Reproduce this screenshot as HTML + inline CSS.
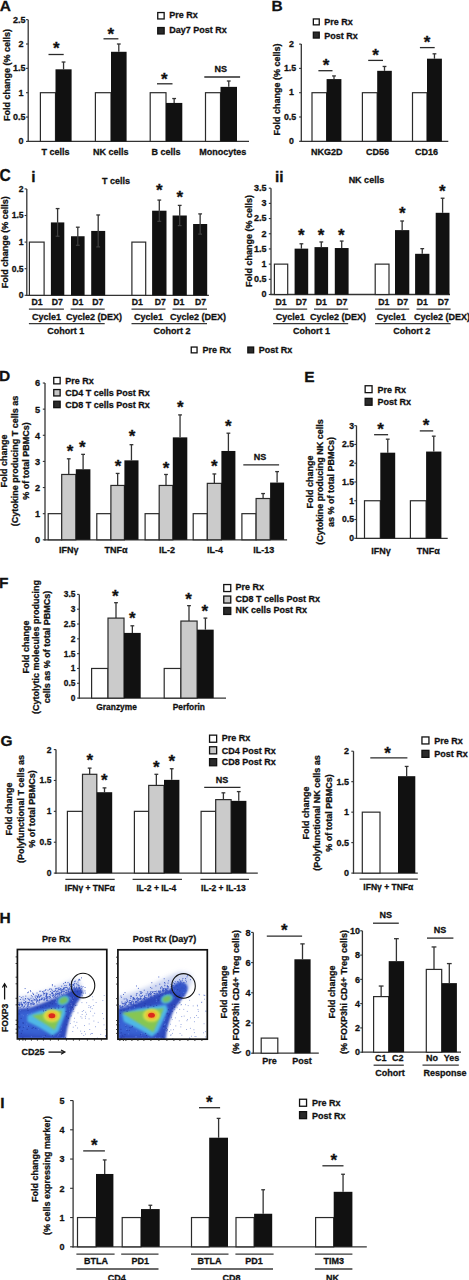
<!DOCTYPE html>
<html><head><meta charset="utf-8"><style>
html,body{margin:0;padding:0;background:#fff;}
svg{display:block;}
text{font-family:"Liberation Sans",sans-serif;font-weight:bold;fill:#111;stroke:#111;stroke-width:0.28px;}
</style></head><body>
<svg width="469" height="1280" viewBox="0 0 469 1280">
<defs>
<filter id="bl2" x="-20%" y="-20%" width="140%" height="140%"><feGaussianBlur stdDeviation="2"/></filter>
<filter id="bl1" x="-30%" y="-30%" width="160%" height="160%"><feGaussianBlur stdDeviation="0.9"/></filter>
<filter id="bl08" x="-30%" y="-30%" width="160%" height="160%"><feGaussianBlur stdDeviation="0.7"/></filter>
<filter id="bl15" x="-30%" y="-30%" width="160%" height="160%"><feGaussianBlur stdDeviation="1.3"/></filter>
<clipPath id="fc"><rect x="0" y="0" width="89.4" height="89.4"/></clipPath>
</defs>
<rect width="469" height="1280" fill="#fff"/>
<text x="-0.3" y="11" text-anchor="start" font-size="15.5">A</text>
<line x1="28.2" y1="19.65" x2="28.2" y2="142" stroke="#333" stroke-width="1.3"/>
<line x1="26" y1="141.4" x2="28.2" y2="141.4" stroke="#333" stroke-width="1.1"/>
<text x="23.5" y="144.3" text-anchor="end" font-size="9">0</text>
<line x1="26" y1="117.05" x2="28.2" y2="117.05" stroke="#333" stroke-width="1.1"/>
<text x="25.5" y="119.95" text-anchor="end" font-size="9">0.5</text>
<line x1="26" y1="92.7" x2="28.2" y2="92.7" stroke="#333" stroke-width="1.1"/>
<text x="23.5" y="95.6" text-anchor="end" font-size="9">1</text>
<line x1="26" y1="68.35" x2="28.2" y2="68.35" stroke="#333" stroke-width="1.1"/>
<text x="25.5" y="71.25" text-anchor="end" font-size="9">1.5</text>
<line x1="26" y1="44" x2="28.2" y2="44" stroke="#333" stroke-width="1.1"/>
<text x="23.5" y="46.9" text-anchor="end" font-size="9">2</text>
<line x1="26" y1="19.65" x2="28.2" y2="19.65" stroke="#333" stroke-width="1.1"/>
<text x="25.5" y="22.55" text-anchor="end" font-size="9">2.5</text>
<line x1="27.6" y1="141.4" x2="249" y2="141.4" stroke="#333" stroke-width="1.3"/>
<rect x="40.4" y="92.7" width="15.1" height="48.7" fill="#fff" stroke="#2a2a2a" stroke-width="1.2"/>
<line x1="63.55" y1="69.32" x2="63.55" y2="62.02" stroke="#333" stroke-width="1.3"/>
<line x1="61.65" y1="62.02" x2="65.45" y2="62.02" stroke="#333" stroke-width="1.3"/>
<rect x="55.5" y="69.32" width="16.1" height="72.08" fill="#111"/>
<rect x="95.4" y="92.7" width="15.6" height="48.7" fill="#fff" stroke="#2a2a2a" stroke-width="1.2"/>
<line x1="118.8" y1="51.79" x2="118.8" y2="44" stroke="#333" stroke-width="1.3"/>
<line x1="116.9" y1="44" x2="120.7" y2="44" stroke="#333" stroke-width="1.3"/>
<rect x="111" y="51.79" width="15.6" height="89.61" fill="#111"/>
<rect x="150.2" y="92.7" width="15.8" height="48.7" fill="#fff" stroke="#2a2a2a" stroke-width="1.2"/>
<line x1="174.15" y1="102.93" x2="174.15" y2="98.54" stroke="#333" stroke-width="1.3"/>
<line x1="172.25" y1="98.54" x2="176.05" y2="98.54" stroke="#333" stroke-width="1.3"/>
<rect x="166" y="102.93" width="16.3" height="38.47" fill="#111"/>
<rect x="205.5" y="92.7" width="15" height="48.7" fill="#fff" stroke="#2a2a2a" stroke-width="1.2"/>
<line x1="228.75" y1="86.86" x2="228.75" y2="81.01" stroke="#333" stroke-width="1.3"/>
<line x1="226.85" y1="81.01" x2="230.65" y2="81.01" stroke="#333" stroke-width="1.3"/>
<rect x="220.5" y="86.86" width="16.5" height="54.54" fill="#111"/>
<line x1="48.5" y1="54.5" x2="63.7" y2="54.5" stroke="#2a2a2a" stroke-width="1.3"/>
<text x="56.4" y="54.13" text-anchor="middle" font-size="17">*</text>
<line x1="103.5" y1="38.8" x2="118.4" y2="38.8" stroke="#2a2a2a" stroke-width="1.3"/>
<text x="110.7" y="39.93" text-anchor="middle" font-size="17">*</text>
<line x1="157" y1="83.8" x2="172.5" y2="83.8" stroke="#2a2a2a" stroke-width="1.3"/>
<text x="164.3" y="85.03" text-anchor="middle" font-size="17">*</text>
<line x1="204.3" y1="77" x2="240.1" y2="77" stroke="#2a2a2a" stroke-width="1.3"/>
<text x="220.8" y="71.7" text-anchor="middle" font-size="9">NS</text>
<text x="55.4" y="155.39" text-anchor="middle" font-size="9">T cells</text>
<text x="110.7" y="155.39" text-anchor="middle" font-size="9">NK cells</text>
<text x="166.1" y="155.39" text-anchor="middle" font-size="9">B cells</text>
<text x="222.8" y="155.39" text-anchor="middle" font-size="9">Monocytes</text>
<rect x="157.75" y="12.55" width="6.4" height="6.4" fill="#fff" stroke="#111" stroke-width="1.3"/>
<text x="169.2" y="18.4" text-anchor="start" font-size="9">Pre Rx</text>
<rect x="157.75" y="27.55" width="6.4" height="6.4" fill="#2a2a2a" stroke="#111" stroke-width="1.3"/>
<text x="169.2" y="33.4" text-anchor="start" font-size="9">Day7 Post Rx</text>
<text x="0" y="0" transform="translate(9.8,74.9) rotate(-90)" text-anchor="middle" font-size="9">Fold change (% cells)</text>
<text x="271.6" y="11.4" text-anchor="start" font-size="15.5">B</text>
<line x1="301.3" y1="44.1" x2="301.3" y2="141.9" stroke="#333" stroke-width="1.3"/>
<line x1="299.1" y1="141.3" x2="301.3" y2="141.3" stroke="#333" stroke-width="1.1"/>
<text x="293.9" y="143.9" text-anchor="end" font-size="8.8">0</text>
<line x1="299.1" y1="117" x2="301.3" y2="117" stroke="#333" stroke-width="1.1"/>
<text x="296.2" y="119.6" text-anchor="end" font-size="8.8">0.5</text>
<line x1="299.1" y1="92.7" x2="301.3" y2="92.7" stroke="#333" stroke-width="1.1"/>
<text x="293.9" y="95.3" text-anchor="end" font-size="8.8">1</text>
<line x1="299.1" y1="68.4" x2="301.3" y2="68.4" stroke="#333" stroke-width="1.1"/>
<text x="296.2" y="71" text-anchor="end" font-size="8.8">1.5</text>
<line x1="299.1" y1="44.1" x2="301.3" y2="44.1" stroke="#333" stroke-width="1.1"/>
<text x="293.9" y="46.7" text-anchor="end" font-size="8.8">2</text>
<line x1="300.7" y1="141.3" x2="448.3" y2="141.3" stroke="#333" stroke-width="1.3"/>
<rect x="312" y="92.7" width="14.6" height="48.6" fill="#fff" stroke="#2a2a2a" stroke-width="1.2"/>
<line x1="334" y1="79.09" x2="334" y2="75.93" stroke="#333" stroke-width="1.3"/>
<line x1="332.1" y1="75.93" x2="335.9" y2="75.93" stroke="#333" stroke-width="1.3"/>
<rect x="326.6" y="79.09" width="14.8" height="62.21" fill="#111"/>
<rect x="362.4" y="92.7" width="14.8" height="48.6" fill="#fff" stroke="#2a2a2a" stroke-width="1.2"/>
<line x1="384.5" y1="70.83" x2="384.5" y2="66.46" stroke="#333" stroke-width="1.3"/>
<line x1="382.6" y1="66.46" x2="386.4" y2="66.46" stroke="#333" stroke-width="1.3"/>
<rect x="377.2" y="70.83" width="14.6" height="70.47" fill="#111"/>
<rect x="412.5" y="92.7" width="14.5" height="48.6" fill="#fff" stroke="#2a2a2a" stroke-width="1.2"/>
<line x1="434.45" y1="58.68" x2="434.45" y2="53.82" stroke="#333" stroke-width="1.3"/>
<line x1="432.55" y1="53.82" x2="436.35" y2="53.82" stroke="#333" stroke-width="1.3"/>
<rect x="427" y="58.68" width="14.9" height="82.62" fill="#111"/>
<line x1="318.4" y1="70.7" x2="332.5" y2="70.7" stroke="#2a2a2a" stroke-width="1.3"/>
<text x="326" y="71.33" text-anchor="middle" font-size="17">*</text>
<line x1="368.2" y1="60.4" x2="383" y2="60.4" stroke="#2a2a2a" stroke-width="1.3"/>
<text x="375.6" y="61.13" text-anchor="middle" font-size="17">*</text>
<line x1="419.9" y1="47.6" x2="434.7" y2="47.6" stroke="#2a2a2a" stroke-width="1.3"/>
<text x="427" y="48.33" text-anchor="middle" font-size="17">*</text>
<text x="326.8" y="155" text-anchor="middle" font-size="9">NKG2D</text>
<text x="377.5" y="155" text-anchor="middle" font-size="9">CD56</text>
<text x="426.5" y="155" text-anchor="middle" font-size="9">CD16</text>
<rect x="313.35" y="18.95" width="5.9" height="5.9" fill="#fff" stroke="#111" stroke-width="1.3"/>
<text x="324.2" y="24.9" text-anchor="start" font-size="9">Pre Rx</text>
<rect x="313.35" y="32.15" width="5.9" height="5.9" fill="#2a2a2a" stroke="#111" stroke-width="1.3"/>
<text x="324.2" y="38.8" text-anchor="start" font-size="9">Post Rx</text>
<text x="0" y="0" transform="translate(280.4,89.4) rotate(-90)" text-anchor="middle" font-size="9">Fold change (% cells)</text>
<text x="-0.6" y="181.3" text-anchor="start" font-size="15.6">C</text>
<text x="31.3" y="181.7" text-anchor="start" font-size="15.5">i</text>
<line x1="26.8" y1="188.9" x2="26.8" y2="295.9" stroke="#333" stroke-width="1.3"/>
<line x1="24.6" y1="295.3" x2="26.8" y2="295.3" stroke="#333" stroke-width="1.1"/>
<text x="23.6" y="298.2" text-anchor="end" font-size="8.6">0</text>
<line x1="24.6" y1="268.7" x2="26.8" y2="268.7" stroke="#333" stroke-width="1.1"/>
<text x="23.6" y="271.6" text-anchor="end" font-size="8.6">0.5</text>
<line x1="24.6" y1="242.1" x2="26.8" y2="242.1" stroke="#333" stroke-width="1.1"/>
<text x="23.6" y="245" text-anchor="end" font-size="8.6">1</text>
<line x1="24.6" y1="215.5" x2="26.8" y2="215.5" stroke="#333" stroke-width="1.1"/>
<text x="23.6" y="218.4" text-anchor="end" font-size="8.6">1.5</text>
<line x1="24.6" y1="188.9" x2="26.8" y2="188.9" stroke="#333" stroke-width="1.1"/>
<text x="23.6" y="191.8" text-anchor="end" font-size="8.6">2</text>
<line x1="26.2" y1="295.3" x2="208.9" y2="295.3" stroke="#333" stroke-width="1.3"/>
<rect x="29.4" y="242.1" width="14.7" height="53.2" fill="#fff" stroke="#2a2a2a" stroke-width="1.2"/>
<line x1="57.6" y1="222.42" x2="57.6" y2="208.58" stroke="#333" stroke-width="1.3"/>
<line x1="55.7" y1="208.58" x2="59.5" y2="208.58" stroke="#333" stroke-width="1.3"/>
<rect x="50.9" y="222.42" width="13.4" height="72.88" fill="#111"/>
<line x1="57.6" y1="222.42" x2="57.6" y2="236.25" stroke="#404040" stroke-width="1.2"/>
<line x1="55.7" y1="236.25" x2="59.5" y2="236.25" stroke="#404040" stroke-width="1.2"/>
<line x1="77.8" y1="236.25" x2="77.8" y2="227.2" stroke="#333" stroke-width="1.3"/>
<line x1="75.9" y1="227.2" x2="79.7" y2="227.2" stroke="#333" stroke-width="1.3"/>
<rect x="71" y="236.25" width="13.6" height="59.05" fill="#111"/>
<line x1="77.8" y1="236.25" x2="77.8" y2="245.29" stroke="#404040" stroke-width="1.2"/>
<line x1="75.9" y1="245.29" x2="79.7" y2="245.29" stroke="#404040" stroke-width="1.2"/>
<line x1="98.2" y1="230.93" x2="98.2" y2="214.97" stroke="#333" stroke-width="1.3"/>
<line x1="96.3" y1="214.97" x2="100.1" y2="214.97" stroke="#333" stroke-width="1.3"/>
<rect x="91.2" y="230.93" width="14" height="64.37" fill="#111"/>
<line x1="98.2" y1="230.93" x2="98.2" y2="246.89" stroke="#404040" stroke-width="1.2"/>
<line x1="96.3" y1="246.89" x2="100.1" y2="246.89" stroke="#404040" stroke-width="1.2"/>
<rect x="131.9" y="242.1" width="13.8" height="53.2" fill="#fff" stroke="#2a2a2a" stroke-width="1.2"/>
<line x1="159.3" y1="210.71" x2="159.3" y2="200.07" stroke="#333" stroke-width="1.3"/>
<line x1="157.4" y1="200.07" x2="161.2" y2="200.07" stroke="#333" stroke-width="1.3"/>
<rect x="152.1" y="210.71" width="14.4" height="84.59" fill="#111"/>
<line x1="159.3" y1="210.71" x2="159.3" y2="221.35" stroke="#404040" stroke-width="1.2"/>
<line x1="157.4" y1="221.35" x2="161.2" y2="221.35" stroke="#404040" stroke-width="1.2"/>
<line x1="179.7" y1="215.5" x2="179.7" y2="205.39" stroke="#333" stroke-width="1.3"/>
<line x1="177.8" y1="205.39" x2="181.6" y2="205.39" stroke="#333" stroke-width="1.3"/>
<rect x="172.6" y="215.5" width="14.2" height="79.8" fill="#111"/>
<line x1="179.7" y1="215.5" x2="179.7" y2="225.61" stroke="#404040" stroke-width="1.2"/>
<line x1="177.8" y1="225.61" x2="181.6" y2="225.61" stroke="#404040" stroke-width="1.2"/>
<line x1="200.15" y1="224.01" x2="200.15" y2="213.9" stroke="#333" stroke-width="1.3"/>
<line x1="198.25" y1="213.9" x2="202.05" y2="213.9" stroke="#333" stroke-width="1.3"/>
<rect x="193.1" y="224.01" width="14.1" height="71.29" fill="#111"/>
<line x1="200.15" y1="224.01" x2="200.15" y2="234.12" stroke="#404040" stroke-width="1.2"/>
<line x1="198.25" y1="234.12" x2="202.05" y2="234.12" stroke="#404040" stroke-width="1.2"/>
<text x="159.2" y="196.33" text-anchor="middle" font-size="17">*</text>
<text x="179.7" y="202.73" text-anchor="middle" font-size="17">*</text>
<text x="116" y="183.7" text-anchor="middle" font-size="9">T cells</text>
<text x="37" y="305.4" text-anchor="middle" font-size="8.7">D1</text>
<text x="57.4" y="305.4" text-anchor="middle" font-size="8.7">D7</text>
<text x="77.9" y="305.4" text-anchor="middle" font-size="8.7">D1</text>
<text x="97.9" y="305.4" text-anchor="middle" font-size="8.7">D7</text>
<line x1="28.9" y1="309.1" x2="63.9" y2="309.1" stroke="#383838" stroke-width="1.3"/>
<line x1="70.6" y1="309.1" x2="104.7" y2="309.1" stroke="#383838" stroke-width="1.3"/>
<text x="46.6" y="320.4" text-anchor="middle" font-size="9">Cycle1</text>
<text x="66" y="320.4" text-anchor="start" font-size="9">Cycle2 (DEX)</text>
<line x1="28.9" y1="323.6" x2="104.7" y2="323.6" stroke="#383838" stroke-width="1.3"/>
<text x="65.8" y="333.6" text-anchor="middle" font-size="9">Cohort 1</text>
<text x="137.4" y="305.4" text-anchor="middle" font-size="8.7">D1</text>
<text x="160.2" y="305.4" text-anchor="middle" font-size="8.7">D7</text>
<text x="178.9" y="305.4" text-anchor="middle" font-size="8.7">D1</text>
<text x="200.6" y="305.4" text-anchor="middle" font-size="8.7">D7</text>
<line x1="131.5" y1="309.1" x2="165.5" y2="309.1" stroke="#383838" stroke-width="1.3"/>
<line x1="172.5" y1="309.1" x2="207" y2="309.1" stroke="#383838" stroke-width="1.3"/>
<text x="148.5" y="320.4" text-anchor="middle" font-size="9">Cycle1</text>
<text x="170" y="320.4" text-anchor="start" font-size="9">Cycle2 (DEX)</text>
<line x1="131.5" y1="323.6" x2="207" y2="323.6" stroke="#383838" stroke-width="1.3"/>
<text x="171.9" y="333.6" text-anchor="middle" font-size="9">Cohort 2</text>
<text x="0" y="0" transform="translate(8.3,242.2) rotate(-90)" text-anchor="middle" font-size="9">Fold change (% cells)</text>
<line x1="271" y1="188.2" x2="271" y2="295.1" stroke="#333" stroke-width="1.3"/>
<line x1="268.8" y1="294.5" x2="271" y2="294.5" stroke="#333" stroke-width="1.1"/>
<text x="266.4" y="297.4" text-anchor="end" font-size="9">0</text>
<line x1="268.8" y1="279.31" x2="271" y2="279.31" stroke="#333" stroke-width="1.1"/>
<text x="266.4" y="282.21" text-anchor="end" font-size="9">0.5</text>
<line x1="268.8" y1="264.13" x2="271" y2="264.13" stroke="#333" stroke-width="1.1"/>
<text x="266.4" y="267.03" text-anchor="end" font-size="9">1</text>
<line x1="268.8" y1="248.94" x2="271" y2="248.94" stroke="#333" stroke-width="1.1"/>
<text x="266.4" y="251.84" text-anchor="end" font-size="9">1.5</text>
<line x1="268.8" y1="233.76" x2="271" y2="233.76" stroke="#333" stroke-width="1.1"/>
<text x="266.4" y="236.66" text-anchor="end" font-size="9">2</text>
<line x1="268.8" y1="218.57" x2="271" y2="218.57" stroke="#333" stroke-width="1.1"/>
<text x="266.4" y="221.47" text-anchor="end" font-size="9">2.5</text>
<line x1="268.8" y1="203.39" x2="271" y2="203.39" stroke="#333" stroke-width="1.1"/>
<text x="266.4" y="206.29" text-anchor="end" font-size="9">3</text>
<line x1="268.8" y1="188.2" x2="271" y2="188.2" stroke="#333" stroke-width="1.1"/>
<text x="266.4" y="191.1" text-anchor="end" font-size="9">3.5</text>
<line x1="270.4" y1="294.5" x2="450" y2="294.5" stroke="#333" stroke-width="1.3"/>
<rect x="274.4" y="264.13" width="13.3" height="30.37" fill="#fff" stroke="#2a2a2a" stroke-width="1.2"/>
<line x1="301.4" y1="248.64" x2="301.4" y2="243.78" stroke="#333" stroke-width="1.3"/>
<line x1="299.5" y1="243.78" x2="303.3" y2="243.78" stroke="#333" stroke-width="1.3"/>
<rect x="294.6" y="248.64" width="13.6" height="45.86" fill="#111"/>
<line x1="321.3" y1="247.12" x2="321.3" y2="241.96" stroke="#333" stroke-width="1.3"/>
<line x1="319.4" y1="241.96" x2="323.2" y2="241.96" stroke="#333" stroke-width="1.3"/>
<rect x="314.5" y="247.12" width="13.6" height="47.38" fill="#111"/>
<line x1="341.7" y1="248.03" x2="341.7" y2="241.05" stroke="#333" stroke-width="1.3"/>
<line x1="339.8" y1="241.05" x2="343.6" y2="241.05" stroke="#333" stroke-width="1.3"/>
<rect x="334.8" y="248.03" width="13.8" height="46.47" fill="#111"/>
<rect x="375.2" y="264.13" width="13.8" height="30.37" fill="#fff" stroke="#2a2a2a" stroke-width="1.2"/>
<line x1="402.15" y1="230.12" x2="402.15" y2="221" stroke="#333" stroke-width="1.3"/>
<line x1="400.25" y1="221" x2="404.05" y2="221" stroke="#333" stroke-width="1.3"/>
<rect x="395" y="230.12" width="14.3" height="64.38" fill="#111"/>
<line x1="422.25" y1="253.8" x2="422.25" y2="248.64" stroke="#333" stroke-width="1.3"/>
<line x1="420.35" y1="248.64" x2="424.15" y2="248.64" stroke="#333" stroke-width="1.3"/>
<rect x="415.1" y="253.8" width="14.3" height="40.7" fill="#111"/>
<line x1="442.6" y1="212.8" x2="442.6" y2="198.23" stroke="#333" stroke-width="1.3"/>
<line x1="440.7" y1="198.23" x2="444.5" y2="198.23" stroke="#333" stroke-width="1.3"/>
<rect x="435.7" y="212.8" width="13.8" height="81.7" fill="#111"/>
<text x="301.2" y="240.93" text-anchor="middle" font-size="17">*</text>
<text x="321" y="240.93" text-anchor="middle" font-size="17">*</text>
<text x="341.4" y="240.93" text-anchor="middle" font-size="17">*</text>
<text x="402.2" y="219.23" text-anchor="middle" font-size="17">*</text>
<text x="442.3" y="196.63" text-anchor="middle" font-size="17">*</text>
<text x="275" y="182.1" text-anchor="start" font-size="15.5">ii</text>
<text x="366.4" y="183.2" text-anchor="middle" font-size="9">NK cells</text>
<text x="281" y="305.4" text-anchor="middle" font-size="8.7">D1</text>
<text x="301.4" y="305.4" text-anchor="middle" font-size="8.7">D7</text>
<text x="321.3" y="305.4" text-anchor="middle" font-size="8.7">D1</text>
<text x="341.7" y="305.4" text-anchor="middle" font-size="8.7">D7</text>
<line x1="273.1" y1="309.1" x2="307.2" y2="309.1" stroke="#383838" stroke-width="1.3"/>
<line x1="314" y1="309.1" x2="348.2" y2="309.1" stroke="#383838" stroke-width="1.3"/>
<text x="290.2" y="320.4" text-anchor="middle" font-size="9">Cycle1</text>
<text x="310" y="320.4" text-anchor="start" font-size="9">Cycle2 (DEX)</text>
<line x1="273.1" y1="323.6" x2="348.2" y2="323.6" stroke="#383838" stroke-width="1.3"/>
<text x="311.5" y="333.6" text-anchor="middle" font-size="9">Cohort 1</text>
<text x="383.7" y="305.4" text-anchor="middle" font-size="8.7">D1</text>
<text x="402.6" y="305.4" text-anchor="middle" font-size="8.7">D7</text>
<text x="422.3" y="305.4" text-anchor="middle" font-size="8.7">D1</text>
<text x="443.2" y="305.4" text-anchor="middle" font-size="8.7">D7</text>
<line x1="375.1" y1="309.1" x2="409.3" y2="309.1" stroke="#383838" stroke-width="1.3"/>
<line x1="416.5" y1="309.1" x2="450.6" y2="309.1" stroke="#383838" stroke-width="1.3"/>
<text x="391.3" y="320.4" text-anchor="middle" font-size="9">Cycle1</text>
<text x="414" y="320.4" text-anchor="start" font-size="9">Cycle2 (DEX)</text>
<line x1="375.1" y1="323.6" x2="450.6" y2="323.6" stroke="#383838" stroke-width="1.3"/>
<text x="411.8" y="333.6" text-anchor="middle" font-size="9">Cohort 2</text>
<text x="0" y="0" transform="translate(252.4,240.9) rotate(-90)" text-anchor="middle" font-size="9">Fold change (% cells)</text>
<rect x="191.25" y="347.05" width="5.8" height="5.8" fill="#fff" stroke="#111" stroke-width="1.3"/>
<text x="202.4" y="352.9" text-anchor="start" font-size="9">Pre Rx</text>
<rect x="247.85" y="347.05" width="5.8" height="5.8" fill="#2a2a2a" stroke="#111" stroke-width="1.3"/>
<text x="258.7" y="352.9" text-anchor="start" font-size="9">Post Rx</text>
<text x="-1" y="381.4" text-anchor="start" font-size="15.5">D</text>
<line x1="45" y1="383.02" x2="45" y2="540.4" stroke="#333" stroke-width="1.3"/>
<line x1="42.8" y1="539.8" x2="45" y2="539.8" stroke="#333" stroke-width="1.1"/>
<text x="40.2" y="543.2" text-anchor="end" font-size="9.2">0</text>
<line x1="42.8" y1="513.67" x2="45" y2="513.67" stroke="#333" stroke-width="1.1"/>
<text x="40.2" y="517.07" text-anchor="end" font-size="9.2">1</text>
<line x1="42.8" y1="487.54" x2="45" y2="487.54" stroke="#333" stroke-width="1.1"/>
<text x="40.2" y="490.94" text-anchor="end" font-size="9.2">2</text>
<line x1="42.8" y1="461.41" x2="45" y2="461.41" stroke="#333" stroke-width="1.1"/>
<text x="40.2" y="464.81" text-anchor="end" font-size="9.2">3</text>
<line x1="42.8" y1="435.28" x2="45" y2="435.28" stroke="#333" stroke-width="1.1"/>
<text x="40.2" y="438.68" text-anchor="end" font-size="9.2">4</text>
<line x1="42.8" y1="409.15" x2="45" y2="409.15" stroke="#333" stroke-width="1.1"/>
<text x="40.2" y="412.55" text-anchor="end" font-size="9.2">5</text>
<line x1="42.8" y1="383.02" x2="45" y2="383.02" stroke="#333" stroke-width="1.1"/>
<text x="40.2" y="386.42" text-anchor="end" font-size="9.2">6</text>
<line x1="44.4" y1="539.8" x2="287.1" y2="539.8" stroke="#333" stroke-width="1.3"/>
<rect x="48.2" y="513.67" width="13.5" height="26.13" fill="#fff" stroke="#2a2a2a" stroke-width="1.2"/>
<line x1="68.75" y1="474.47" x2="68.75" y2="458.8" stroke="#333" stroke-width="1.3"/>
<line x1="66.85" y1="458.8" x2="70.65" y2="458.8" stroke="#333" stroke-width="1.3"/>
<rect x="61.7" y="474.47" width="14.1" height="65.32" fill="#cbcbcb" stroke="#2a2a2a" stroke-width="1.2"/>
<line x1="83.1" y1="469.25" x2="83.1" y2="454.35" stroke="#333" stroke-width="1.3"/>
<line x1="81.2" y1="454.35" x2="85" y2="454.35" stroke="#333" stroke-width="1.3"/>
<rect x="75.8" y="469.25" width="14.6" height="70.55" fill="#111"/>
<rect x="96.8" y="513.67" width="14.1" height="26.13" fill="#fff" stroke="#2a2a2a" stroke-width="1.2"/>
<line x1="117.65" y1="485.45" x2="117.65" y2="473.43" stroke="#333" stroke-width="1.3"/>
<line x1="115.75" y1="473.43" x2="119.55" y2="473.43" stroke="#333" stroke-width="1.3"/>
<rect x="110.9" y="485.45" width="13.5" height="54.35" fill="#cbcbcb" stroke="#2a2a2a" stroke-width="1.2"/>
<line x1="131.45" y1="460.36" x2="131.45" y2="444.69" stroke="#333" stroke-width="1.3"/>
<line x1="129.55" y1="444.69" x2="133.35" y2="444.69" stroke="#333" stroke-width="1.3"/>
<rect x="124.4" y="460.36" width="14.1" height="79.44" fill="#111"/>
<rect x="145.1" y="513.67" width="14.1" height="26.13" fill="#fff" stroke="#2a2a2a" stroke-width="1.2"/>
<line x1="166" y1="485.45" x2="166" y2="474.47" stroke="#333" stroke-width="1.3"/>
<line x1="164.1" y1="474.47" x2="167.9" y2="474.47" stroke="#333" stroke-width="1.3"/>
<rect x="159.2" y="485.45" width="13.6" height="54.35" fill="#cbcbcb" stroke="#2a2a2a" stroke-width="1.2"/>
<line x1="180.05" y1="437.37" x2="180.05" y2="414.9" stroke="#333" stroke-width="1.3"/>
<line x1="178.15" y1="414.9" x2="181.95" y2="414.9" stroke="#333" stroke-width="1.3"/>
<rect x="172.8" y="437.37" width="14.5" height="102.43" fill="#111"/>
<rect x="193.2" y="513.67" width="14.1" height="26.13" fill="#fff" stroke="#2a2a2a" stroke-width="1.2"/>
<line x1="214.35" y1="483.36" x2="214.35" y2="473.95" stroke="#333" stroke-width="1.3"/>
<line x1="212.45" y1="473.95" x2="216.25" y2="473.95" stroke="#333" stroke-width="1.3"/>
<rect x="207.3" y="483.36" width="14.1" height="56.44" fill="#cbcbcb" stroke="#2a2a2a" stroke-width="1.2"/>
<line x1="228.4" y1="450.96" x2="228.4" y2="433.19" stroke="#333" stroke-width="1.3"/>
<line x1="226.5" y1="433.19" x2="230.3" y2="433.19" stroke="#333" stroke-width="1.3"/>
<rect x="221.4" y="450.96" width="14" height="88.84" fill="#111"/>
<rect x="241.9" y="513.67" width="14.2" height="26.13" fill="#fff" stroke="#2a2a2a" stroke-width="1.2"/>
<line x1="263.1" y1="498.51" x2="263.1" y2="493.55" stroke="#333" stroke-width="1.3"/>
<line x1="261.2" y1="493.55" x2="265" y2="493.55" stroke="#333" stroke-width="1.3"/>
<rect x="256.1" y="498.51" width="14" height="41.29" fill="#cbcbcb" stroke="#2a2a2a" stroke-width="1.2"/>
<line x1="277.1" y1="482.58" x2="277.1" y2="471.6" stroke="#333" stroke-width="1.3"/>
<line x1="275.2" y1="471.6" x2="279" y2="471.6" stroke="#333" stroke-width="1.3"/>
<rect x="270.1" y="482.58" width="14" height="57.22" fill="#111"/>
<text x="70" y="456.53" text-anchor="middle" font-size="17">*</text>
<text x="82.2" y="452.63" text-anchor="middle" font-size="17">*</text>
<text x="118" y="471.83" text-anchor="middle" font-size="17">*</text>
<text x="132.1" y="442.43" text-anchor="middle" font-size="17">*</text>
<text x="166.1" y="473.63" text-anchor="middle" font-size="17">*</text>
<text x="180.2" y="412.93" text-anchor="middle" font-size="17">*</text>
<text x="214.2" y="471.83" text-anchor="middle" font-size="17">*</text>
<text x="228.3" y="432.13" text-anchor="middle" font-size="17">*</text>
<line x1="243.3" y1="464.9" x2="279.1" y2="464.9" stroke="#2a2a2a" stroke-width="1.3"/>
<text x="259.9" y="459.5" text-anchor="middle" font-size="9">NS</text>
<text x="68.7" y="553.2" text-anchor="middle" font-size="9">IFN&#947;</text>
<text x="116" y="553.2" text-anchor="middle" font-size="9">TNF&#945;</text>
<text x="166.9" y="553.2" text-anchor="middle" font-size="9">IL-2</text>
<text x="215" y="553.2" text-anchor="middle" font-size="9">IL-4</text>
<text x="263.8" y="553.2" text-anchor="middle" font-size="9">IL-13</text>
<rect x="53.75" y="377.45" width="6.4" height="6.4" fill="#fff" stroke="#111" stroke-width="1.3"/>
<text x="65.2" y="384" text-anchor="start" font-size="9">Pre Rx</text>
<rect x="53.75" y="389.55" width="6.4" height="6.4" fill="#c6c6c6" stroke="#111" stroke-width="1.3"/>
<text x="65.2" y="396.1" text-anchor="start" font-size="9">CD4 T cells Post Rx</text>
<rect x="53.75" y="401.25" width="6.4" height="6.4" fill="#2a2a2a" stroke="#111" stroke-width="1.3"/>
<text x="65.2" y="407.8" text-anchor="start" font-size="9">CD8 T cells Post Rx</text>
<text x="0" y="0" transform="translate(7.4,461) rotate(-90)" text-anchor="middle" font-size="9">Fold change</text>
<text x="0" y="0" transform="translate(18,461) rotate(-90)" text-anchor="middle" font-size="9">(Cytokine producing T cells as</text>
<text x="0" y="0" transform="translate(29.2,461) rotate(-90)" text-anchor="middle" font-size="9">% of total PBMCs)</text>
<text x="304.3" y="382" text-anchor="start" font-size="15.5">E</text>
<line x1="356.5" y1="425.65" x2="356.5" y2="538.9" stroke="#333" stroke-width="1.3"/>
<line x1="354.3" y1="538.3" x2="356.5" y2="538.3" stroke="#333" stroke-width="1.1"/>
<text x="354" y="541.2" text-anchor="end" font-size="8.6">0</text>
<line x1="354.3" y1="519.52" x2="356.5" y2="519.52" stroke="#333" stroke-width="1.1"/>
<text x="354" y="522.42" text-anchor="end" font-size="8.6">0.5</text>
<line x1="354.3" y1="500.75" x2="356.5" y2="500.75" stroke="#333" stroke-width="1.1"/>
<text x="354" y="503.65" text-anchor="end" font-size="8.6">1</text>
<line x1="354.3" y1="481.97" x2="356.5" y2="481.97" stroke="#333" stroke-width="1.1"/>
<text x="354" y="484.87" text-anchor="end" font-size="8.6">1.5</text>
<line x1="354.3" y1="463.2" x2="356.5" y2="463.2" stroke="#333" stroke-width="1.1"/>
<text x="354" y="466.1" text-anchor="end" font-size="8.6">2</text>
<line x1="354.3" y1="444.42" x2="356.5" y2="444.42" stroke="#333" stroke-width="1.1"/>
<text x="354" y="447.32" text-anchor="end" font-size="8.6">2.5</text>
<line x1="354.3" y1="425.65" x2="356.5" y2="425.65" stroke="#333" stroke-width="1.1"/>
<text x="354" y="428.55" text-anchor="end" font-size="8.6">3</text>
<line x1="355.9" y1="538.3" x2="447.7" y2="538.3" stroke="#333" stroke-width="1.3"/>
<rect x="364.5" y="500.75" width="15.8" height="37.55" fill="#fff" stroke="#2a2a2a" stroke-width="1.2"/>
<line x1="387.75" y1="452.69" x2="387.75" y2="439.17" stroke="#333" stroke-width="1.3"/>
<line x1="385.85" y1="439.17" x2="389.65" y2="439.17" stroke="#333" stroke-width="1.3"/>
<rect x="380.3" y="452.69" width="14.9" height="85.61" fill="#111"/>
<rect x="410.4" y="500.75" width="15.7" height="37.55" fill="#fff" stroke="#2a2a2a" stroke-width="1.2"/>
<line x1="433.75" y1="451.56" x2="433.75" y2="436.16" stroke="#333" stroke-width="1.3"/>
<line x1="431.85" y1="436.16" x2="435.65" y2="436.16" stroke="#333" stroke-width="1.3"/>
<rect x="426.1" y="451.56" width="15.3" height="86.74" fill="#111"/>
<line x1="374.1" y1="434.7" x2="388.1" y2="434.7" stroke="#2a2a2a" stroke-width="1.3"/>
<text x="380.5" y="435.13" text-anchor="middle" font-size="17">*</text>
<line x1="419.8" y1="430.9" x2="433.2" y2="430.9" stroke="#2a2a2a" stroke-width="1.3"/>
<text x="426.1" y="431.33" text-anchor="middle" font-size="17">*</text>
<text x="381" y="554.2" text-anchor="middle" font-size="9">IFN&#947;</text>
<text x="428.3" y="554.2" text-anchor="middle" font-size="9">TNF&#945;</text>
<rect x="365.15" y="385.75" width="6.9" height="6.9" fill="#fff" stroke="#111" stroke-width="1.3"/>
<text x="377.4" y="392.8" text-anchor="start" font-size="9">Pre Rx</text>
<rect x="365.15" y="398.35" width="6.9" height="6.9" fill="#2a2a2a" stroke="#111" stroke-width="1.3"/>
<text x="377.4" y="405" text-anchor="start" font-size="9">Post Rx</text>
<text x="0" y="0" transform="translate(312.8,482) rotate(-90)" text-anchor="middle" font-size="9">Fold change</text>
<text x="0" y="0" transform="translate(323,482) rotate(-90)" text-anchor="middle" font-size="9">(Cytokine producing NK cells</text>
<text x="0" y="0" transform="translate(333.9,482) rotate(-90)" text-anchor="middle" font-size="9">as % of total PBMCs)</text>
<text x="-1.1" y="588.3" text-anchor="start" font-size="15.5">F</text>
<line x1="79.3" y1="594.39" x2="79.3" y2="698.7" stroke="#333" stroke-width="1.3"/>
<line x1="77.1" y1="698.1" x2="79.3" y2="698.1" stroke="#333" stroke-width="1.1"/>
<text x="75.4" y="701" text-anchor="end" font-size="8.4">0</text>
<line x1="77.1" y1="683.28" x2="79.3" y2="683.28" stroke="#333" stroke-width="1.1"/>
<text x="75.4" y="686.18" text-anchor="end" font-size="8.4">0.5</text>
<line x1="77.1" y1="668.47" x2="79.3" y2="668.47" stroke="#333" stroke-width="1.1"/>
<text x="75.4" y="671.37" text-anchor="end" font-size="8.4">1</text>
<line x1="77.1" y1="653.65" x2="79.3" y2="653.65" stroke="#333" stroke-width="1.1"/>
<text x="75.4" y="656.55" text-anchor="end" font-size="8.4">1.5</text>
<line x1="77.1" y1="638.84" x2="79.3" y2="638.84" stroke="#333" stroke-width="1.1"/>
<text x="75.4" y="641.74" text-anchor="end" font-size="8.4">2</text>
<line x1="77.1" y1="624.02" x2="79.3" y2="624.02" stroke="#333" stroke-width="1.1"/>
<text x="75.4" y="626.92" text-anchor="end" font-size="8.4">2.5</text>
<line x1="77.1" y1="609.21" x2="79.3" y2="609.21" stroke="#333" stroke-width="1.1"/>
<text x="75.4" y="612.11" text-anchor="end" font-size="8.4">3</text>
<line x1="77.1" y1="594.39" x2="79.3" y2="594.39" stroke="#333" stroke-width="1.1"/>
<text x="75.4" y="597.29" text-anchor="end" font-size="8.4">3.5</text>
<line x1="78.7" y1="698.1" x2="226" y2="698.1" stroke="#333" stroke-width="1.3"/>
<rect x="91.6" y="668.47" width="16.4" height="29.63" fill="#fff" stroke="#2a2a2a" stroke-width="1.2"/>
<line x1="116" y1="618.1" x2="116" y2="602.69" stroke="#333" stroke-width="1.3"/>
<line x1="114.1" y1="602.69" x2="117.9" y2="602.69" stroke="#333" stroke-width="1.3"/>
<rect x="108" y="618.1" width="16" height="80" fill="#cbcbcb" stroke="#2a2a2a" stroke-width="1.2"/>
<line x1="132.35" y1="632.91" x2="132.35" y2="625.8" stroke="#333" stroke-width="1.3"/>
<line x1="130.45" y1="625.8" x2="134.25" y2="625.8" stroke="#333" stroke-width="1.3"/>
<rect x="124" y="632.91" width="16.7" height="65.19" fill="#111"/>
<rect x="164.2" y="668.47" width="16.7" height="29.63" fill="#fff" stroke="#2a2a2a" stroke-width="1.2"/>
<line x1="189" y1="621.06" x2="189" y2="605.65" stroke="#333" stroke-width="1.3"/>
<line x1="187.1" y1="605.65" x2="190.9" y2="605.65" stroke="#333" stroke-width="1.3"/>
<rect x="180.9" y="621.06" width="16.2" height="77.04" fill="#cbcbcb" stroke="#2a2a2a" stroke-width="1.2"/>
<line x1="205.4" y1="629.65" x2="205.4" y2="618.1" stroke="#333" stroke-width="1.3"/>
<line x1="203.5" y1="618.1" x2="207.3" y2="618.1" stroke="#333" stroke-width="1.3"/>
<rect x="197.1" y="629.65" width="16.6" height="68.45" fill="#111"/>
<text x="115.2" y="602.23" text-anchor="middle" font-size="17">*</text>
<text x="132.4" y="624.33" text-anchor="middle" font-size="17">*</text>
<text x="188.6" y="605.03" text-anchor="middle" font-size="17">*</text>
<text x="204.9" y="616.73" text-anchor="middle" font-size="17">*</text>
<text x="116.6" y="710.38" text-anchor="middle" font-size="8.4">Granzyme</text>
<text x="188.8" y="710.38" text-anchor="middle" font-size="8.4">Perforin</text>
<rect x="223.75" y="584.55" width="7" height="7" fill="#fff" stroke="#111" stroke-width="1.3"/>
<text x="235.5" y="590.2" text-anchor="start" font-size="9">Pre Rx</text>
<rect x="223.75" y="596.05" width="7" height="7" fill="#c6c6c6" stroke="#111" stroke-width="1.3"/>
<text x="235.5" y="601.8" text-anchor="start" font-size="9">CD8 T cells Post Rx</text>
<rect x="223.75" y="607.45" width="7" height="7" fill="#2a2a2a" stroke="#111" stroke-width="1.3"/>
<text x="235.5" y="613.4" text-anchor="start" font-size="9">NK cells Post Rx</text>
<text x="0" y="0" transform="translate(28.8,647) rotate(-90)" text-anchor="middle" font-size="9">Fold change</text>
<text x="0" y="0" transform="translate(39,647) rotate(-90)" text-anchor="middle" font-size="9">(Cytolytic molecules producing</text>
<text x="0" y="0" transform="translate(49.6,647) rotate(-90)" text-anchor="middle" font-size="9">cells as % of total PBMCs)</text>
<text x="0.6" y="746.1" text-anchor="start" font-size="15.5">G</text>
<line x1="56" y1="749.6" x2="56" y2="873.7" stroke="#333" stroke-width="1.3"/>
<line x1="53.8" y1="873.1" x2="56" y2="873.1" stroke="#333" stroke-width="1.1"/>
<text x="51.4" y="876" text-anchor="end" font-size="8.5">0</text>
<line x1="53.8" y1="842.23" x2="56" y2="842.23" stroke="#333" stroke-width="1.1"/>
<text x="51.4" y="845.12" text-anchor="end" font-size="8.5">0.5</text>
<line x1="53.8" y1="811.35" x2="56" y2="811.35" stroke="#333" stroke-width="1.1"/>
<text x="51.4" y="814.25" text-anchor="end" font-size="8.5">1</text>
<line x1="53.8" y1="780.48" x2="56" y2="780.48" stroke="#333" stroke-width="1.1"/>
<text x="51.4" y="783.38" text-anchor="end" font-size="8.5">1.5</text>
<line x1="53.8" y1="749.6" x2="56" y2="749.6" stroke="#333" stroke-width="1.1"/>
<text x="51.4" y="752.5" text-anchor="end" font-size="8.5">2</text>
<line x1="55.4" y1="873.1" x2="257.8" y2="873.1" stroke="#333" stroke-width="1.3"/>
<rect x="67.4" y="811.35" width="15.1" height="61.75" fill="#fff" stroke="#2a2a2a" stroke-width="1.2"/>
<line x1="89.65" y1="774.3" x2="89.65" y2="768.12" stroke="#333" stroke-width="1.3"/>
<line x1="87.75" y1="768.12" x2="91.55" y2="768.12" stroke="#333" stroke-width="1.3"/>
<rect x="82.5" y="774.3" width="14.3" height="98.8" fill="#cbcbcb" stroke="#2a2a2a" stroke-width="1.2"/>
<line x1="104.5" y1="792.21" x2="104.5" y2="787.88" stroke="#333" stroke-width="1.3"/>
<line x1="102.6" y1="787.88" x2="106.4" y2="787.88" stroke="#333" stroke-width="1.3"/>
<rect x="96.8" y="792.21" width="15.4" height="80.89" fill="#111"/>
<rect x="134.4" y="811.35" width="14.3" height="61.75" fill="#fff" stroke="#2a2a2a" stroke-width="1.2"/>
<line x1="156.35" y1="785.41" x2="156.35" y2="774.3" stroke="#333" stroke-width="1.3"/>
<line x1="154.45" y1="774.3" x2="158.25" y2="774.3" stroke="#333" stroke-width="1.3"/>
<rect x="148.7" y="785.41" width="15.3" height="87.69" fill="#cbcbcb" stroke="#2a2a2a" stroke-width="1.2"/>
<line x1="171.7" y1="779.86" x2="171.7" y2="768.74" stroke="#333" stroke-width="1.3"/>
<line x1="169.8" y1="768.74" x2="173.6" y2="768.74" stroke="#333" stroke-width="1.3"/>
<rect x="164" y="779.86" width="15.4" height="93.24" fill="#111"/>
<rect x="201.1" y="811.35" width="14.6" height="61.75" fill="#fff" stroke="#2a2a2a" stroke-width="1.2"/>
<line x1="223.4" y1="799.62" x2="223.4" y2="792.83" stroke="#333" stroke-width="1.3"/>
<line x1="221.5" y1="792.83" x2="225.3" y2="792.83" stroke="#333" stroke-width="1.3"/>
<rect x="215.7" y="799.62" width="15.4" height="73.48" fill="#cbcbcb" stroke="#2a2a2a" stroke-width="1.2"/>
<line x1="238.75" y1="800.85" x2="238.75" y2="791.59" stroke="#333" stroke-width="1.3"/>
<line x1="236.85" y1="791.59" x2="240.65" y2="791.59" stroke="#333" stroke-width="1.3"/>
<rect x="231.1" y="800.85" width="15.3" height="72.25" fill="#111"/>
<text x="89.7" y="766.23" text-anchor="middle" font-size="17">*</text>
<text x="104.2" y="786.23" text-anchor="middle" font-size="17">*</text>
<text x="156.4" y="773.13" text-anchor="middle" font-size="17">*</text>
<text x="171.7" y="767.03" text-anchor="middle" font-size="17">*</text>
<line x1="204.2" y1="787.3" x2="240.5" y2="787.3" stroke="#2a2a2a" stroke-width="1.3"/>
<text x="222.1" y="782.9" text-anchor="middle" font-size="9">NS</text>
<line x1="65.4" y1="879.3" x2="114.7" y2="879.3" stroke="#383838" stroke-width="1.3"/>
<line x1="132.6" y1="879.3" x2="182" y2="879.3" stroke="#383838" stroke-width="1.3"/>
<line x1="200.4" y1="879.3" x2="249" y2="879.3" stroke="#383838" stroke-width="1.3"/>
<text x="89.7" y="890.82" text-anchor="middle" font-size="8.5">IFN&#947; + TNF&#945;</text>
<text x="156.4" y="890.82" text-anchor="middle" font-size="8.5">IL-2 + IL-4</text>
<text x="223.4" y="890.82" text-anchor="middle" font-size="8.5">IL-2 + IL-13</text>
<rect x="209.55" y="735.15" width="7.1" height="7.1" fill="#fff" stroke="#111" stroke-width="1.3"/>
<text x="221.8" y="741" text-anchor="start" font-size="9">Pre Rx</text>
<rect x="209.55" y="746.75" width="7.1" height="7.1" fill="#c6c6c6" stroke="#111" stroke-width="1.3"/>
<text x="221.8" y="753.5" text-anchor="start" font-size="9">CD4 Post Rx</text>
<rect x="209.55" y="758.65" width="7.1" height="7.1" fill="#2a2a2a" stroke="#111" stroke-width="1.3"/>
<text x="221.8" y="765.1" text-anchor="start" font-size="9">CD8 Post Rx</text>
<text x="0" y="0" transform="translate(12.2,809) rotate(-90)" text-anchor="middle" font-size="9">Fold change</text>
<text x="0" y="0" transform="translate(24.1,809) rotate(-90)" text-anchor="middle" font-size="9">(Polyfunctional T cells as</text>
<text x="0" y="0" transform="translate(35.3,809) rotate(-90)" text-anchor="middle" font-size="9">% of total PBMCs)</text>
<line x1="353.5" y1="751.2" x2="353.5" y2="873.7" stroke="#333" stroke-width="1.3"/>
<line x1="351.3" y1="873.1" x2="353.5" y2="873.1" stroke="#333" stroke-width="1.1"/>
<text x="348.9" y="876" text-anchor="end" font-size="9">0</text>
<line x1="351.3" y1="842.62" x2="353.5" y2="842.62" stroke="#333" stroke-width="1.1"/>
<text x="348.9" y="845.52" text-anchor="end" font-size="9">0.5</text>
<line x1="351.3" y1="812.15" x2="353.5" y2="812.15" stroke="#333" stroke-width="1.1"/>
<text x="348.9" y="815.05" text-anchor="end" font-size="9">1</text>
<line x1="351.3" y1="781.67" x2="353.5" y2="781.67" stroke="#333" stroke-width="1.1"/>
<text x="348.9" y="784.57" text-anchor="end" font-size="9">1.5</text>
<line x1="351.3" y1="751.2" x2="353.5" y2="751.2" stroke="#333" stroke-width="1.1"/>
<text x="348.9" y="754.1" text-anchor="end" font-size="9">2</text>
<line x1="352.9" y1="873.1" x2="417.8" y2="873.1" stroke="#333" stroke-width="1.3"/>
<rect x="362.3" y="812.15" width="17.7" height="60.95" fill="#fff" stroke="#2a2a2a" stroke-width="1.2"/>
<line x1="406.65" y1="776.19" x2="406.65" y2="766.44" stroke="#333" stroke-width="1.3"/>
<line x1="404.75" y1="766.44" x2="408.55" y2="766.44" stroke="#333" stroke-width="1.3"/>
<rect x="398" y="776.19" width="17.3" height="96.91" fill="#111"/>
<line x1="370.3" y1="757.8" x2="407.4" y2="757.8" stroke="#2a2a2a" stroke-width="1.3"/>
<text x="387.6" y="758.93" text-anchor="middle" font-size="17">*</text>
<line x1="359.5" y1="879.2" x2="417.8" y2="879.2" stroke="#383838" stroke-width="1.3"/>
<text x="388.3" y="890.22" text-anchor="middle" font-size="8.5">IFN&#947; + TNF&#945;</text>
<rect x="421.95" y="736.95" width="7" height="7" fill="#fff" stroke="#111" stroke-width="1.3"/>
<text x="434.3" y="743.8" text-anchor="start" font-size="9">Pre Rx</text>
<rect x="421.95" y="750.35" width="7" height="7" fill="#2a2a2a" stroke="#111" stroke-width="1.3"/>
<text x="434.3" y="757.1" text-anchor="start" font-size="9">Post Rx</text>
<text x="0" y="0" transform="translate(309.4,813) rotate(-90)" text-anchor="middle" font-size="9">Fold change</text>
<text x="0" y="0" transform="translate(319.8,813) rotate(-90)" text-anchor="middle" font-size="9">(Polyfunctional NK cells as</text>
<text x="0" y="0" transform="translate(331.8,813) rotate(-90)" text-anchor="middle" font-size="9">% of total PBMCs)</text>
<text x="-0.6" y="922.8" text-anchor="start" font-size="15.5">H</text>
<text x="56.3" y="941.9" text-anchor="middle" font-size="9">Pre Rx</text>
<text x="164.5" y="942.3" text-anchor="middle" font-size="9">Post Rx (Day7)</text>
<line x1="253.3" y1="932.4" x2="253.3" y2="1053.8" stroke="#333" stroke-width="1.3"/>
<line x1="251.1" y1="1053.2" x2="253.3" y2="1053.2" stroke="#333" stroke-width="1.1"/>
<text x="250.6" y="1056.4" text-anchor="end" font-size="9.2">0</text>
<line x1="251.1" y1="1023" x2="253.3" y2="1023" stroke="#333" stroke-width="1.1"/>
<text x="250.6" y="1026.2" text-anchor="end" font-size="9.2">2</text>
<line x1="251.1" y1="992.8" x2="253.3" y2="992.8" stroke="#333" stroke-width="1.1"/>
<text x="250.6" y="996" text-anchor="end" font-size="9.2">4</text>
<line x1="251.1" y1="962.6" x2="253.3" y2="962.6" stroke="#333" stroke-width="1.1"/>
<text x="250.6" y="965.8" text-anchor="end" font-size="9.2">6</text>
<line x1="251.1" y1="932.4" x2="253.3" y2="932.4" stroke="#333" stroke-width="1.1"/>
<text x="250.6" y="935.6" text-anchor="end" font-size="9.2">8</text>
<line x1="252.7" y1="1053.2" x2="318.8" y2="1053.2" stroke="#333" stroke-width="1.3"/>
<rect x="261.2" y="1038.1" width="16.6" height="15.1" fill="#fff" stroke="#2a2a2a" stroke-width="1.2"/>
<line x1="302.5" y1="959.28" x2="302.5" y2="943.88" stroke="#333" stroke-width="1.3"/>
<line x1="300.3" y1="943.88" x2="304.7" y2="943.88" stroke="#333" stroke-width="1.3"/>
<rect x="294.4" y="959.28" width="16.2" height="93.92" fill="#111"/>
<line x1="266.8" y1="936.1" x2="302.1" y2="936.1" stroke="#2a2a2a" stroke-width="1.3"/>
<text x="284.2" y="936.03" text-anchor="middle" font-size="17">*</text>
<text x="269.4" y="1063.89" text-anchor="middle" font-size="9">Pre</text>
<text x="302.1" y="1063.89" text-anchor="middle" font-size="9">Post</text>
<text x="0" y="0" transform="translate(227.3,992) rotate(-90)" text-anchor="middle" font-size="9">Fold change</text>
<text x="0" y="0" transform="translate(238.8,992) rotate(-90)" text-anchor="middle" font-size="9">(% FOXP3hi CD4+ Treg cells)</text>
<line x1="362.4" y1="930.8" x2="362.4" y2="1052.8" stroke="#333" stroke-width="1.3"/>
<line x1="360.2" y1="1052.2" x2="362.4" y2="1052.2" stroke="#333" stroke-width="1.1"/>
<text x="360.1" y="1055.4" text-anchor="end" font-size="9">0</text>
<line x1="360.2" y1="1027.92" x2="362.4" y2="1027.92" stroke="#333" stroke-width="1.1"/>
<text x="360.1" y="1031.12" text-anchor="end" font-size="9">2</text>
<line x1="360.2" y1="1003.64" x2="362.4" y2="1003.64" stroke="#333" stroke-width="1.1"/>
<text x="360.1" y="1006.84" text-anchor="end" font-size="9">4</text>
<line x1="360.2" y1="979.36" x2="362.4" y2="979.36" stroke="#333" stroke-width="1.1"/>
<text x="360.1" y="982.56" text-anchor="end" font-size="9">6</text>
<line x1="360.2" y1="955.08" x2="362.4" y2="955.08" stroke="#333" stroke-width="1.1"/>
<text x="360.1" y="958.28" text-anchor="end" font-size="9">8</text>
<line x1="360.2" y1="930.8" x2="362.4" y2="930.8" stroke="#333" stroke-width="1.1"/>
<text x="360.1" y="934" text-anchor="end" font-size="9">10</text>
<line x1="361.8" y1="1052.2" x2="461" y2="1052.2" stroke="#333" stroke-width="1.3"/>
<line x1="381.15" y1="996.6" x2="381.15" y2="986.04" stroke="#333" stroke-width="1.3"/>
<line x1="378.75" y1="986.04" x2="383.55" y2="986.04" stroke="#333" stroke-width="1.3"/>
<rect x="373.6" y="996.6" width="15.1" height="55.6" fill="#fff" stroke="#2a2a2a" stroke-width="1.2"/>
<line x1="396.4" y1="961.15" x2="396.4" y2="938.69" stroke="#333" stroke-width="1.3"/>
<line x1="394" y1="938.69" x2="398.8" y2="938.69" stroke="#333" stroke-width="1.3"/>
<rect x="388.7" y="961.15" width="15.4" height="91.05" fill="#111"/>
<line x1="434" y1="969.41" x2="434" y2="946.95" stroke="#333" stroke-width="1.3"/>
<line x1="431.6" y1="946.95" x2="436.4" y2="946.95" stroke="#333" stroke-width="1.3"/>
<rect x="426.3" y="969.41" width="15.4" height="82.79" fill="#fff" stroke="#2a2a2a" stroke-width="1.2"/>
<line x1="449.3" y1="983.12" x2="449.3" y2="963.58" stroke="#333" stroke-width="1.3"/>
<line x1="446.9" y1="963.58" x2="451.7" y2="963.58" stroke="#333" stroke-width="1.3"/>
<rect x="441.7" y="983.12" width="15.2" height="69.08" fill="#111"/>
<line x1="373" y1="923.2" x2="398.8" y2="923.2" stroke="#2a2a2a" stroke-width="1.3"/>
<text x="385.8" y="918.4" text-anchor="middle" font-size="9">NS</text>
<line x1="427" y1="938.1" x2="453.4" y2="938.1" stroke="#2a2a2a" stroke-width="1.3"/>
<text x="440.1" y="932.7" text-anchor="middle" font-size="9">NS</text>
<text x="380.7" y="1061.49" text-anchor="middle" font-size="9">C1</text>
<text x="397.8" y="1061.49" text-anchor="middle" font-size="9">C2</text>
<text x="432.1" y="1061.49" text-anchor="middle" font-size="9">No</text>
<text x="451.4" y="1061.49" text-anchor="middle" font-size="9">Yes</text>
<line x1="373.6" y1="1065.2" x2="403.8" y2="1065.2" stroke="#383838" stroke-width="1.3"/>
<line x1="422.5" y1="1065.2" x2="458.8" y2="1065.2" stroke="#383838" stroke-width="1.3"/>
<text x="390" y="1075.79" text-anchor="middle" font-size="9">Cohort</text>
<text x="445" y="1075.79" text-anchor="middle" font-size="9">Response</text>
<text x="0" y="0" transform="translate(335.1,992) rotate(-90)" text-anchor="middle" font-size="9">Fold change</text>
<text x="0" y="0" transform="translate(347,992) rotate(-90)" text-anchor="middle" font-size="9">(% FOXP3hi CD4+ Treg cells)</text>
<text x="0.2" y="1107.8" text-anchor="start" font-size="15.5">I</text>
<line x1="73.1" y1="1100.55" x2="73.1" y2="1247.4" stroke="#333" stroke-width="1.3"/>
<line x1="70.1" y1="1246.8" x2="73.1" y2="1246.8" stroke="#333" stroke-width="1.1"/>
<text x="64.6" y="1250" text-anchor="end" font-size="9">0</text>
<line x1="70.1" y1="1217.55" x2="73.1" y2="1217.55" stroke="#333" stroke-width="1.1"/>
<text x="64.6" y="1220.75" text-anchor="end" font-size="9">1</text>
<line x1="70.1" y1="1188.3" x2="73.1" y2="1188.3" stroke="#333" stroke-width="1.1"/>
<text x="64.6" y="1191.5" text-anchor="end" font-size="9">2</text>
<line x1="70.1" y1="1159.05" x2="73.1" y2="1159.05" stroke="#333" stroke-width="1.1"/>
<text x="64.6" y="1162.25" text-anchor="end" font-size="9">3</text>
<line x1="70.1" y1="1129.8" x2="73.1" y2="1129.8" stroke="#333" stroke-width="1.1"/>
<text x="64.6" y="1133" text-anchor="end" font-size="9">4</text>
<line x1="70.1" y1="1100.55" x2="73.1" y2="1100.55" stroke="#333" stroke-width="1.1"/>
<text x="64.6" y="1103.75" text-anchor="end" font-size="9">5</text>
<line x1="72.5" y1="1246.8" x2="366.8" y2="1246.8" stroke="#333" stroke-width="1.3"/>
<rect x="77.5" y="1217.55" width="18.5" height="29.25" fill="#fff" stroke="#2a2a2a" stroke-width="1.2"/>
<line x1="104.7" y1="1173.97" x2="104.7" y2="1159.93" stroke="#333" stroke-width="1.3"/>
<line x1="102.8" y1="1159.93" x2="106.6" y2="1159.93" stroke="#333" stroke-width="1.3"/>
<rect x="96" y="1173.97" width="17.4" height="72.83" fill="#111"/>
<rect x="122.2" y="1217.55" width="18.8" height="29.25" fill="#fff" stroke="#2a2a2a" stroke-width="1.2"/>
<line x1="150.35" y1="1209.07" x2="150.35" y2="1205.26" stroke="#333" stroke-width="1.3"/>
<line x1="148.45" y1="1205.26" x2="152.25" y2="1205.26" stroke="#333" stroke-width="1.3"/>
<rect x="141" y="1209.07" width="18.7" height="37.73" fill="#111"/>
<rect x="191.5" y="1217.55" width="17.7" height="29.25" fill="#fff" stroke="#2a2a2a" stroke-width="1.2"/>
<line x1="218.6" y1="1137.7" x2="218.6" y2="1118.39" stroke="#333" stroke-width="1.3"/>
<line x1="216.7" y1="1118.39" x2="220.5" y2="1118.39" stroke="#333" stroke-width="1.3"/>
<rect x="209.2" y="1137.7" width="18.8" height="109.1" fill="#111"/>
<rect x="236" y="1217.55" width="18.1" height="29.25" fill="#fff" stroke="#2a2a2a" stroke-width="1.2"/>
<line x1="263.15" y1="1213.75" x2="263.15" y2="1189.76" stroke="#333" stroke-width="1.3"/>
<line x1="261.25" y1="1189.76" x2="265.05" y2="1189.76" stroke="#333" stroke-width="1.3"/>
<rect x="254.1" y="1213.75" width="18.1" height="33.05" fill="#111"/>
<rect x="315.6" y="1217.55" width="18.1" height="29.25" fill="#fff" stroke="#2a2a2a" stroke-width="1.2"/>
<line x1="343.05" y1="1191.81" x2="343.05" y2="1174.26" stroke="#333" stroke-width="1.3"/>
<line x1="341.15" y1="1174.26" x2="344.95" y2="1174.26" stroke="#333" stroke-width="1.3"/>
<rect x="333.7" y="1191.81" width="18.7" height="54.99" fill="#111"/>
<line x1="83.2" y1="1150.9" x2="104.9" y2="1150.9" stroke="#2a2a2a" stroke-width="1.3"/>
<text x="94.2" y="1150.83" text-anchor="middle" font-size="17">*</text>
<line x1="199" y1="1107.7" x2="220.1" y2="1107.7" stroke="#2a2a2a" stroke-width="1.3"/>
<text x="209.2" y="1107.93" text-anchor="middle" font-size="17">*</text>
<line x1="322.4" y1="1165.8" x2="343.5" y2="1165.8" stroke="#2a2a2a" stroke-width="1.3"/>
<text x="333.7" y="1165.53" text-anchor="middle" font-size="17">*</text>
<line x1="76.4" y1="1254.1" x2="114.6" y2="1254.1" stroke="#383838" stroke-width="1.3"/>
<line x1="121.2" y1="1254.1" x2="158.5" y2="1254.1" stroke="#383838" stroke-width="1.3"/>
<line x1="191" y1="1254.1" x2="228.5" y2="1254.1" stroke="#383838" stroke-width="1.3"/>
<line x1="235.4" y1="1254.1" x2="273.6" y2="1254.1" stroke="#383838" stroke-width="1.3"/>
<line x1="314.9" y1="1254.1" x2="352.4" y2="1254.1" stroke="#383838" stroke-width="1.3"/>
<text x="96" y="1264.29" text-anchor="middle" font-size="9">BTLA</text>
<text x="140.3" y="1264.29" text-anchor="middle" font-size="9">PD1</text>
<text x="209.5" y="1264.29" text-anchor="middle" font-size="9">BTLA</text>
<text x="254.1" y="1264.29" text-anchor="middle" font-size="9">PD1</text>
<text x="333.7" y="1264.29" text-anchor="middle" font-size="9">TIM3</text>
<line x1="76.4" y1="1269" x2="158.5" y2="1269" stroke="#383838" stroke-width="1.3"/>
<line x1="191" y1="1269" x2="273" y2="1269" stroke="#383838" stroke-width="1.3"/>
<line x1="314.9" y1="1269" x2="352.4" y2="1269" stroke="#383838" stroke-width="1.3"/>
<text x="116.7" y="1280.6" text-anchor="middle" font-size="9">CD4</text>
<text x="231.4" y="1280.6" text-anchor="middle" font-size="9">CD8</text>
<text x="332.6" y="1280.6" text-anchor="middle" font-size="9">NK</text>
<rect x="299.55" y="1099.25" width="7" height="7" fill="#fff" stroke="#111" stroke-width="1.3"/>
<text x="312" y="1105.9" text-anchor="start" font-size="9">Pre Rx</text>
<rect x="299.55" y="1111.65" width="7" height="7" fill="#2a2a2a" stroke="#111" stroke-width="1.3"/>
<text x="312" y="1118.6" text-anchor="start" font-size="9">Post Rx</text>
<text x="0" y="0" transform="translate(38.1,1175.5) rotate(-90)" text-anchor="middle" font-size="9">Fold change</text>
<text x="0" y="0" transform="translate(49.7,1175.5) rotate(-90)" text-anchor="middle" font-size="9">(% cells expressing marker)</text>
<g transform="translate(17.4,949.5)" clip-path="url(#fc)">
<g filter="url(#bl2)"><polygon points="0,48 14,46 30,41 44,35 54,31 60,30 64,35 62,44 50,48 30,54 0,60" fill="#7f95dc" opacity="0.4"/></g>
<g filter="url(#bl15)"><polygon points="0,59 12,58.5 20,55.5 28,52.5 38,48.5 48,44 55,40 62,38.5 66,41 64,47 58,56 53,67 50,78 48,89.4 0,89.4" fill="#2f49bc"/></g>
<g filter="url(#bl2)"><polygon points="0,62 12,60 26,59 40,55 46,52 50,56 46,70 42,82 36,86 20,86 0,84" fill="#3862d4"/></g>
<g filter="url(#bl15)"><polygon points="10,66 22,61.5 48,57.5 48,64 41,82 35,86 22,78 10,72" fill="#4fb8e6"/></g>
<g filter="url(#bl15)"><ellipse cx="46" cy="51" rx="6.5" ry="4.6" fill="#4fb4e0" transform="rotate(-25 46 51)"/></g>
<g filter="url(#bl1)"><polygon points="14.4,66 45,61 37.4,80.6" fill="#86c653"/></g>
<g filter="url(#bl1)"><ellipse cx="46" cy="51" rx="4.4" ry="2.9" fill="#74c060" transform="rotate(-25 46 51)"/></g>
<g filter="url(#bl1)"><ellipse cx="34.5" cy="66.2" rx="8.5" ry="6.5" fill="#d8e048"/></g>
<g filter="url(#bl1)"><ellipse cx="34.5" cy="66.2" rx="5.6" ry="4.2" fill="#f2b030"/></g>
<g filter="url(#bl08)"><ellipse cx="34.5" cy="66.2" rx="3.4" ry="2.5" fill="#dc2a1c"/></g>
<rect x="2.59" y="60.33" width="1" height="1" fill="#5b80e2" opacity="0.8"/>
<rect x="10.12" y="60.52" width="1" height="1" fill="#22369e" opacity="0.8"/>
<rect x="48.61" y="66.22" width="1" height="1" fill="#22369e" opacity="0.8"/>
<rect x="14.27" y="78.36" width="1" height="1" fill="#22369e" opacity="0.8"/>
<rect x="55.2" y="41.89" width="1" height="1" fill="#22369e" opacity="0.8"/>
<rect x="19.26" y="88.44" width="1" height="1" fill="#5b80e2" opacity="0.8"/>
<rect x="25.86" y="87.3" width="1" height="1" fill="#22369e" opacity="0.8"/>
<rect x="60.6" y="46.14" width="1" height="1" fill="#5b80e2" opacity="0.8"/>
<rect x="0.3" y="71.88" width="1" height="1" fill="#22369e" opacity="0.8"/>
<rect x="5.1" y="88.05" width="1" height="1" fill="#22369e" opacity="0.8"/>
<rect x="1.62" y="77.85" width="1" height="1" fill="#22369e" opacity="0.8"/>
<rect x="4.34" y="88.68" width="1" height="1" fill="#22369e" opacity="0.8"/>
<rect x="40.74" y="57.94" width="1" height="1" fill="#22369e" opacity="0.8"/>
<rect x="44.12" y="80.61" width="1" height="1" fill="#22369e" opacity="0.8"/>
<rect x="9.53" y="58.64" width="1" height="1" fill="#22369e" opacity="0.8"/>
<rect x="40.51" y="89.36" width="1" height="1" fill="#5b80e2" opacity="0.8"/>
<rect x="33.7" y="88.77" width="1" height="1" fill="#5b80e2" opacity="0.8"/>
<rect x="43.42" y="76.87" width="1" height="1" fill="#5b80e2" opacity="0.8"/>
<rect x="26.27" y="86.44" width="1" height="1" fill="#5b80e2" opacity="0.8"/>
<rect x="15.36" y="77.45" width="1" height="1" fill="#22369e" opacity="0.8"/>
<rect x="41.6" y="55.69" width="1" height="1" fill="#5b80e2" opacity="0.8"/>
<rect x="52.76" y="47.94" width="1" height="1" fill="#5b80e2" opacity="0.8"/>
<rect x="24.9" y="57.31" width="1" height="1" fill="#22369e" opacity="0.8"/>
<rect x="3.22" y="68.38" width="1" height="1" fill="#22369e" opacity="0.8"/>
<rect x="53.28" y="65.67" width="1" height="1" fill="#5b80e2" opacity="0.8"/>
<rect x="50.58" y="68.47" width="1" height="1" fill="#22369e" opacity="0.8"/>
<rect x="33.6" y="58.48" width="1" height="1" fill="#22369e" opacity="0.8"/>
<rect x="26.06" y="87.9" width="1" height="1" fill="#22369e" opacity="0.8"/>
<rect x="53.27" y="49.13" width="1" height="1" fill="#5b80e2" opacity="0.8"/>
<rect x="44.37" y="57.6" width="1" height="1" fill="#22369e" opacity="0.8"/>
<rect x="25.6" y="60.95" width="1" height="1" fill="#22369e" opacity="0.8"/>
<rect x="55.58" y="59.12" width="1" height="1" fill="#22369e" opacity="0.8"/>
<rect x="1.18" y="63.97" width="1" height="1" fill="#22369e" opacity="0.8"/>
<rect x="13.84" y="88.79" width="1" height="1" fill="#22369e" opacity="0.8"/>
<rect x="54.36" y="60.82" width="1" height="1" fill="#5b80e2" opacity="0.8"/>
<rect x="10.57" y="76.37" width="1" height="1" fill="#22369e" opacity="0.8"/>
<rect x="40.73" y="84.86" width="1" height="1" fill="#5b80e2" opacity="0.8"/>
<rect x="38.69" y="50.58" width="1" height="1" fill="#5b80e2" opacity="0.8"/>
<rect x="20.56" y="79.59" width="1" height="1" fill="#5b80e2" opacity="0.8"/>
<rect x="4.37" y="80.81" width="1" height="1" fill="#22369e" opacity="0.8"/>
<rect x="63.69" y="42.32" width="1" height="1" fill="#22369e" opacity="0.8"/>
<rect x="54.59" y="57.52" width="1" height="1" fill="#22369e" opacity="0.8"/>
<rect x="38.59" y="52.11" width="1" height="1" fill="#5b80e2" opacity="0.8"/>
<rect x="43.77" y="86.06" width="1" height="1" fill="#22369e" opacity="0.8"/>
<rect x="4.98" y="72.93" width="1" height="1" fill="#22369e" opacity="0.8"/>
<rect x="55.51" y="49.32" width="1" height="1" fill="#22369e" opacity="0.8"/>
<rect x="20.96" y="55.19" width="1" height="1" fill="#5b80e2" opacity="0.8"/>
<rect x="58.56" y="39.64" width="1" height="1" fill="#5b80e2" opacity="0.8"/>
<rect x="53.1" y="47.98" width="1" height="1" fill="#5b80e2" opacity="0.8"/>
<rect x="13.48" y="86.79" width="1" height="1" fill="#5b80e2" opacity="0.8"/>
<rect x="55.86" y="54.27" width="1" height="1" fill="#22369e" opacity="0.8"/>
<rect x="31.17" y="55.98" width="1" height="1" fill="#22369e" opacity="0.8"/>
<rect x="52.98" y="66.19" width="1" height="1" fill="#5b80e2" opacity="0.8"/>
<rect x="3.53" y="83.38" width="1" height="1" fill="#22369e" opacity="0.8"/>
<rect x="42.03" y="83.4" width="1" height="1" fill="#5b80e2" opacity="0.8"/>
<rect x="59.77" y="50.84" width="1" height="1" fill="#5b80e2" opacity="0.8"/>
<rect x="35.86" y="87.96" width="1" height="1" fill="#22369e" opacity="0.8"/>
<rect x="27.88" y="60.46" width="1" height="1" fill="#22369e" opacity="0.8"/>
<rect x="5.44" y="77.39" width="1" height="1" fill="#22369e" opacity="0.8"/>
<rect x="4.02" y="64.83" width="1" height="1" fill="#5b80e2" opacity="0.8"/>
<rect x="22.84" y="57.17" width="1" height="1" fill="#22369e" opacity="0.8"/>
<rect x="45.47" y="56.89" width="1" height="1" fill="#22369e" opacity="0.8"/>
<rect x="9.65" y="64.48" width="1" height="1" fill="#5b80e2" opacity="0.8"/>
<rect x="48.24" y="61.47" width="1" height="1" fill="#22369e" opacity="0.8"/>
<rect x="27.5" y="59.43" width="1" height="1" fill="#5b80e2" opacity="0.8"/>
<rect x="5.49" y="73.11" width="1" height="1" fill="#22369e" opacity="0.8"/>
<rect x="37.6" y="52.08" width="1" height="1" fill="#5b80e2" opacity="0.8"/>
<rect x="51.38" y="59.05" width="1" height="1" fill="#5b80e2" opacity="0.8"/>
<rect x="54.71" y="47.57" width="1" height="1" fill="#22369e" opacity="0.8"/>
<rect x="32.4" y="52.97" width="1" height="1" fill="#22369e" opacity="0.8"/>
<rect x="47.41" y="44.31" width="1" height="1" fill="#5b80e2" opacity="0.8"/>
<rect x="39.89" y="86.06" width="1" height="1" fill="#5b80e2" opacity="0.8"/>
<rect x="47.61" y="87.75" width="1" height="1" fill="#22369e" opacity="0.8"/>
<rect x="9.26" y="79.3" width="1" height="1" fill="#22369e" opacity="0.8"/>
<rect x="4.68" y="88.2" width="1" height="1" fill="#22369e" opacity="0.8"/>
<rect x="51.58" y="61.22" width="1" height="1" fill="#5b80e2" opacity="0.8"/>
<rect x="8.83" y="74.04" width="1" height="1" fill="#5b80e2" opacity="0.8"/>
<rect x="17.82" y="78.36" width="1" height="1" fill="#22369e" opacity="0.8"/>
<rect x="27.9" y="55.83" width="1" height="1" fill="#22369e" opacity="0.8"/>
<rect x="27.43" y="85.55" width="1" height="1" fill="#22369e" opacity="0.8"/>
<rect x="5.6" y="65.78" width="1" height="1" fill="#5b80e2" opacity="0.8"/>
<rect x="37.27" y="58.14" width="1" height="1" fill="#22369e" opacity="0.8"/>
<rect x="50.29" y="67.83" width="1" height="1" fill="#22369e" opacity="0.8"/>
<rect x="43.33" y="80.4" width="1" height="1" fill="#5b80e2" opacity="0.8"/>
<rect x="9.38" y="76.24" width="1" height="1" fill="#5b80e2" opacity="0.8"/>
<rect x="53.38" y="55.37" width="1" height="1" fill="#5b80e2" opacity="0.8"/>
<rect x="44.3" y="87.37" width="1" height="1" fill="#5b80e2" opacity="0.8"/>
<rect x="6.45" y="76.33" width="1" height="1" fill="#5b80e2" opacity="0.8"/>
<rect x="34.16" y="50.81" width="1" height="1" fill="#22369e" opacity="0.8"/>
<rect x="42.69" y="88.56" width="1" height="1" fill="#22369e" opacity="0.8"/>
<rect x="34.53" y="85.8" width="1" height="1" fill="#22369e" opacity="0.8"/>
<rect x="0.46" y="76.67" width="1" height="1" fill="#22369e" opacity="0.8"/>
<rect x="40.97" y="55.83" width="1" height="1" fill="#22369e" opacity="0.8"/>
<rect x="24.96" y="86.94" width="1" height="1" fill="#5b80e2" opacity="0.8"/>
<rect x="2.13" y="76.86" width="1" height="1" fill="#22369e" opacity="0.8"/>
<rect x="19.37" y="57.92" width="1" height="1" fill="#22369e" opacity="0.8"/>
<rect x="59.59" y="41.71" width="1" height="1" fill="#22369e" opacity="0.8"/>
<rect x="1.65" y="80.06" width="1" height="1" fill="#5b80e2" opacity="0.8"/>
<rect x="53.54" y="42.42" width="1" height="1" fill="#22369e" opacity="0.8"/>
<rect x="38.35" y="49.51" width="1" height="1" fill="#5b80e2" opacity="0.8"/>
<rect x="13.59" y="63.2" width="1" height="1" fill="#5b80e2" opacity="0.8"/>
<rect x="62.76" y="39.9" width="1" height="1" fill="#22369e" opacity="0.8"/>
<rect x="57.53" y="55.4" width="1" height="1" fill="#22369e" opacity="0.8"/>
<rect x="48.75" y="74.79" width="1" height="1" fill="#22369e" opacity="0.8"/>
<rect x="0.73" y="76.95" width="1" height="1" fill="#22369e" opacity="0.8"/>
<rect x="34.46" y="53.81" width="1" height="1" fill="#22369e" opacity="0.8"/>
<rect x="26.62" y="59.48" width="1" height="1" fill="#5b80e2" opacity="0.8"/>
<rect x="55.18" y="35.35" width="0.9" height="0.9" fill="#3452c2"/>
<rect x="51.28" y="39.5" width="0.9" height="0.9" fill="#3452c2"/>
<rect x="61.07" y="35.8" width="0.9" height="0.9" fill="#3452c2"/>
<rect x="61.04" y="37.31" width="0.9" height="0.9" fill="#3452c2"/>
<rect x="43.01" y="43.21" width="0.9" height="0.9" fill="#3452c2"/>
<rect x="56.53" y="33.63" width="0.9" height="0.9" fill="#3452c2"/>
<rect x="53.58" y="38.34" width="0.9" height="0.9" fill="#3452c2"/>
<rect x="28.97" y="47.71" width="0.9" height="0.9" fill="#3452c2"/>
<rect x="29.52" y="49.19" width="0.9" height="0.9" fill="#3452c2"/>
<rect x="26.21" y="41.07" width="0.9" height="0.9" fill="#3452c2"/>
<rect x="15.58" y="44.52" width="0.9" height="0.9" fill="#3452c2"/>
<rect x="45.82" y="33.77" width="0.9" height="0.9" fill="#3452c2"/>
<rect x="35.81" y="41.5" width="0.9" height="0.9" fill="#3452c2"/>
<rect x="14.82" y="43.18" width="0.9" height="0.9" fill="#3452c2"/>
<rect x="28.87" y="48.31" width="0.9" height="0.9" fill="#3452c2"/>
<rect x="13.23" y="53.75" width="0.9" height="0.9" fill="#3452c2"/>
<rect x="35.91" y="47.73" width="0.9" height="0.9" fill="#3452c2"/>
<rect x="45.35" y="41.97" width="0.9" height="0.9" fill="#3452c2"/>
<rect x="1.21" y="57.22" width="0.9" height="0.9" fill="#3452c2"/>
<rect x="41.84" y="39.63" width="0.9" height="0.9" fill="#3452c2"/>
<rect x="15.2" y="54.05" width="0.9" height="0.9" fill="#3452c2"/>
<rect x="3.46" y="55.95" width="0.9" height="0.9" fill="#3452c2"/>
<rect x="55.46" y="38.89" width="0.9" height="0.9" fill="#3452c2"/>
<rect x="40.97" y="43.8" width="0.9" height="0.9" fill="#3452c2"/>
<rect x="46.94" y="39.18" width="0.9" height="0.9" fill="#3452c2"/>
<rect x="0.28" y="52.85" width="0.9" height="0.9" fill="#3452c2"/>
<rect x="54.58" y="40.05" width="0.9" height="0.9" fill="#3452c2"/>
<rect x="12.89" y="41.72" width="0.9" height="0.9" fill="#3452c2"/>
<rect x="15.19" y="52.53" width="0.9" height="0.9" fill="#3452c2"/>
<rect x="1.21" y="54.38" width="0.9" height="0.9" fill="#3452c2"/>
<rect x="41.35" y="43.29" width="0.9" height="0.9" fill="#3452c2"/>
<rect x="29.4" y="43.76" width="0.9" height="0.9" fill="#3452c2"/>
<rect x="37.2" y="45.96" width="0.9" height="0.9" fill="#3452c2"/>
<rect x="13" y="53.66" width="0.9" height="0.9" fill="#3452c2"/>
<rect x="52.01" y="38.02" width="0.9" height="0.9" fill="#3452c2"/>
<rect x="27.4" y="40.56" width="0.9" height="0.9" fill="#3452c2"/>
<rect x="20.13" y="50.72" width="0.9" height="0.9" fill="#3452c2"/>
<rect x="24.12" y="49.31" width="0.9" height="0.9" fill="#3452c2"/>
<rect x="34.51" y="35.77" width="0.9" height="0.9" fill="#3452c2"/>
<rect x="7.61" y="52.14" width="0.9" height="0.9" fill="#3452c2"/>
<rect x="2.52" y="49.53" width="0.9" height="0.9" fill="#3452c2"/>
<rect x="43.98" y="42.85" width="0.9" height="0.9" fill="#3452c2"/>
<rect x="20.82" y="44.84" width="0.9" height="0.9" fill="#3452c2"/>
<rect x="14.02" y="51.4" width="0.9" height="0.9" fill="#3452c2"/>
<rect x="10.37" y="54.06" width="0.9" height="0.9" fill="#3452c2"/>
<rect x="26.35" y="49.52" width="0.9" height="0.9" fill="#3452c2"/>
<rect x="21.86" y="41.3" width="0.9" height="0.9" fill="#3452c2"/>
<rect x="52.16" y="39.09" width="0.9" height="0.9" fill="#3452c2"/>
<rect x="4.64" y="55.35" width="0.9" height="0.9" fill="#3452c2"/>
<rect x="57.66" y="39.28" width="0.9" height="0.9" fill="#3452c2"/>
<rect x="50.76" y="39" width="0.9" height="0.9" fill="#3452c2"/>
<rect x="8.96" y="57.21" width="0.9" height="0.9" fill="#3452c2"/>
<rect x="26.77" y="43.51" width="0.9" height="0.9" fill="#3452c2"/>
<rect x="58.86" y="37.61" width="0.9" height="0.9" fill="#3452c2"/>
<rect x="34.68" y="46.14" width="0.9" height="0.9" fill="#3452c2"/>
<rect x="41.88" y="43.93" width="0.9" height="0.9" fill="#3452c2"/>
<rect x="48.98" y="42.09" width="0.9" height="0.9" fill="#3452c2"/>
<rect x="6.46" y="56.08" width="0.9" height="0.9" fill="#3452c2"/>
<rect x="31.06" y="46.73" width="0.9" height="0.9" fill="#3452c2"/>
<rect x="30.16" y="40.22" width="0.9" height="0.9" fill="#3452c2"/>
<rect x="11.02" y="52.46" width="0.9" height="0.9" fill="#3452c2"/>
<rect x="39.09" y="44.15" width="0.9" height="0.9" fill="#3452c2"/>
<rect x="43.18" y="42.51" width="0.9" height="0.9" fill="#3452c2"/>
<rect x="63.46" y="36.27" width="0.9" height="0.9" fill="#3452c2"/>
<rect x="1.66" y="55.11" width="0.9" height="0.9" fill="#3452c2"/>
<rect x="55.91" y="34.39" width="0.9" height="0.9" fill="#3452c2"/>
<rect x="4.57" y="55.28" width="0.9" height="0.9" fill="#3452c2"/>
<rect x="26.76" y="49.25" width="0.9" height="0.9" fill="#3452c2"/>
<rect x="7.87" y="51.99" width="0.9" height="0.9" fill="#3452c2"/>
<rect x="34.69" y="42.31" width="0.9" height="0.9" fill="#3452c2"/>
<rect x="56.66" y="39.16" width="0.9" height="0.9" fill="#3452c2"/>
<rect x="21.98" y="50.51" width="0.9" height="0.9" fill="#3452c2"/>
<rect x="19.15" y="43.07" width="0.9" height="0.9" fill="#3452c2"/>
<rect x="5.17" y="49.18" width="0.9" height="0.9" fill="#3452c2"/>
<rect x="52.64" y="44.26" width="0.9" height="0.9" fill="#3452c2"/>
<rect x="22.16" y="46.55" width="0.9" height="0.9" fill="#3452c2"/>
<rect x="28.62" y="43.71" width="0.9" height="0.9" fill="#3452c2"/>
<rect x="20.8" y="45.95" width="0.9" height="0.9" fill="#3452c2"/>
<rect x="40.37" y="38.24" width="0.9" height="0.9" fill="#3452c2"/>
<rect x="9.79" y="56.18" width="0.9" height="0.9" fill="#3452c2"/>
<rect x="50.12" y="32.67" width="0.9" height="0.9" fill="#3452c2"/>
<rect x="9.84" y="42.78" width="0.9" height="0.9" fill="#3452c2"/>
<rect x="53.62" y="31.45" width="0.9" height="0.9" fill="#3452c2"/>
<rect x="37.39" y="40.72" width="0.9" height="0.9" fill="#3452c2"/>
<rect x="14.23" y="53.96" width="0.9" height="0.9" fill="#3452c2"/>
<rect x="36.66" y="41.4" width="0.9" height="0.9" fill="#3452c2"/>
<rect x="29.08" y="47.15" width="0.9" height="0.9" fill="#3452c2"/>
<rect x="43.06" y="38.89" width="0.9" height="0.9" fill="#3452c2"/>
<rect x="42.98" y="40.88" width="0.9" height="0.9" fill="#3452c2"/>
<rect x="3.46" y="47.7" width="0.9" height="0.9" fill="#3452c2"/>
<rect x="9.68" y="56.1" width="0.9" height="0.9" fill="#3452c2"/>
<rect x="50.41" y="39.79" width="0.9" height="0.9" fill="#3452c2"/>
<rect x="28.47" y="44.46" width="0.9" height="0.9" fill="#3452c2"/>
<rect x="37.84" y="47.13" width="0.9" height="0.9" fill="#3452c2"/>
<rect x="43.82" y="36.23" width="0.9" height="0.9" fill="#3452c2"/>
<rect x="37.08" y="36.24" width="0.9" height="0.9" fill="#3452c2"/>
<rect x="44.71" y="45.21" width="0.9" height="0.9" fill="#3452c2"/>
<rect x="62.08" y="36.98" width="0.9" height="0.9" fill="#3452c2"/>
<rect x="23.54" y="49.32" width="0.9" height="0.9" fill="#3452c2"/>
<rect x="5.61" y="57.21" width="0.9" height="0.9" fill="#3452c2"/>
<rect x="25.25" y="42.13" width="0.9" height="0.9" fill="#3452c2"/>
<rect x="28" y="39.65" width="0.9" height="0.9" fill="#3452c2"/>
<rect x="55.03" y="37.32" width="0.9" height="0.9" fill="#3452c2"/>
<rect x="22.19" y="49.42" width="0.9" height="0.9" fill="#3452c2"/>
<rect x="46.18" y="38.66" width="0.9" height="0.9" fill="#3452c2"/>
<rect x="52.2" y="34.73" width="0.9" height="0.9" fill="#3452c2"/>
<rect x="45.68" y="38.94" width="0.9" height="0.9" fill="#3452c2"/>
<rect x="44.59" y="39.96" width="0.9" height="0.9" fill="#3452c2"/>
<rect x="28.64" y="45.71" width="0.9" height="0.9" fill="#3452c2"/>
<rect x="13.49" y="45.72" width="0.9" height="0.9" fill="#3452c2"/>
<rect x="6.37" y="53.31" width="0.9" height="0.9" fill="#3452c2"/>
<rect x="26.2" y="47.69" width="0.9" height="0.9" fill="#3452c2"/>
<rect x="24.14" y="48.4" width="0.9" height="0.9" fill="#3452c2"/>
<rect x="2.3" y="54.7" width="0.9" height="0.9" fill="#3452c2"/>
<rect x="10.34" y="57.06" width="0.9" height="0.9" fill="#3452c2"/>
<rect x="61.11" y="35.36" width="0.9" height="0.9" fill="#3452c2"/>
<rect x="59.19" y="38.76" width="0.9" height="0.9" fill="#3452c2"/>
<rect x="4.22" y="56.68" width="0.9" height="0.9" fill="#3452c2"/>
<rect x="41.88" y="42.37" width="0.9" height="0.9" fill="#3452c2"/>
<rect x="31.74" y="46.43" width="0.9" height="0.9" fill="#3452c2"/>
<rect x="35.02" y="43.24" width="0.9" height="0.9" fill="#3452c2"/>
<rect x="28.43" y="46.78" width="0.9" height="0.9" fill="#3452c2"/>
<rect x="18.85" y="51.44" width="0.9" height="0.9" fill="#3452c2"/>
<rect x="34.35" y="40.34" width="0.9" height="0.9" fill="#3452c2"/>
<rect x="41.12" y="42.16" width="0.9" height="0.9" fill="#3452c2"/>
<rect x="22.88" y="41.24" width="0.9" height="0.9" fill="#3452c2"/>
<rect x="46.94" y="35.6" width="0.9" height="0.9" fill="#3452c2"/>
<rect x="6.47" y="56.66" width="0.9" height="0.9" fill="#3452c2"/>
<rect x="43.67" y="42.23" width="0.9" height="0.9" fill="#3452c2"/>
<rect x="29.06" y="46.67" width="0.9" height="0.9" fill="#3452c2"/>
<rect x="32.1" y="46.59" width="0.9" height="0.9" fill="#3452c2"/>
<rect x="14.87" y="52.11" width="0.9" height="0.9" fill="#3452c2"/>
<rect x="21.15" y="51.29" width="0.9" height="0.9" fill="#3452c2"/>
<rect x="1.9" y="46.58" width="0.9" height="0.9" fill="#3452c2"/>
<rect x="4.36" y="54.52" width="0.9" height="0.9" fill="#3452c2"/>
<rect x="41.22" y="44.72" width="0.9" height="0.9" fill="#3452c2"/>
<rect x="51.65" y="34.18" width="0.9" height="0.9" fill="#3452c2"/>
<rect x="28.98" y="48.71" width="0.9" height="0.9" fill="#3452c2"/>
<rect x="13.71" y="50.55" width="0.9" height="0.9" fill="#3452c2"/>
<rect x="48.52" y="42.33" width="0.9" height="0.9" fill="#3452c2"/>
<rect x="33.83" y="43.07" width="0.9" height="0.9" fill="#3452c2"/>
<rect x="25.88" y="43.78" width="0.9" height="0.9" fill="#3452c2"/>
<rect x="23.88" y="49.76" width="0.9" height="0.9" fill="#3452c2"/>
<rect x="29.26" y="47.13" width="0.9" height="0.9" fill="#3452c2"/>
<rect x="19.6" y="47.46" width="0.9" height="0.9" fill="#3452c2"/>
<rect x="6.34" y="52.87" width="0.9" height="0.9" fill="#3452c2"/>
<rect x="6.49" y="52.81" width="0.9" height="0.9" fill="#3452c2"/>
<rect x="57.61" y="39.74" width="0.9" height="0.9" fill="#3452c2"/>
<rect x="38.15" y="38.61" width="0.9" height="0.9" fill="#3452c2"/>
<rect x="0.42" y="57.91" width="0.9" height="0.9" fill="#3452c2"/>
<rect x="19.48" y="46.43" width="0.9" height="0.9" fill="#3452c2"/>
<rect x="55.53" y="35.34" width="0.9" height="0.9" fill="#3452c2"/>
<rect x="54.38" y="36.27" width="0.9" height="0.9" fill="#3452c2"/>
<rect x="18.91" y="50.96" width="0.9" height="0.9" fill="#3452c2"/>
<rect x="51.63" y="34.09" width="0.9" height="0.9" fill="#3452c2"/>
<rect x="61.61" y="37.88" width="0.9" height="0.9" fill="#3452c2"/>
<rect x="55.05" y="41.62" width="0.9" height="0.9" fill="#3452c2"/>
<rect x="46.17" y="37.93" width="0.9" height="0.9" fill="#3452c2"/>
<rect x="18.77" y="48.7" width="0.9" height="0.9" fill="#3452c2"/>
<rect x="56.27" y="37.68" width="0.9" height="0.9" fill="#3452c2"/>
<rect x="34.83" y="43.71" width="0.9" height="0.9" fill="#3452c2"/>
<rect x="28.18" y="48.61" width="0.9" height="0.9" fill="#3452c2"/>
<rect x="49.85" y="39.02" width="0.9" height="0.9" fill="#3452c2"/>
<rect x="28.06" y="45.94" width="0.9" height="0.9" fill="#3452c2"/>
<rect x="56.68" y="36.13" width="0.9" height="0.9" fill="#3452c2"/>
<rect x="19.77" y="50.34" width="0.9" height="0.9" fill="#3452c2"/>
<rect x="61.68" y="38.25" width="0.9" height="0.9" fill="#3452c2"/>
<rect x="16.15" y="53.54" width="0.9" height="0.9" fill="#3452c2"/>
<rect x="19.26" y="54.17" width="0.9" height="0.9" fill="#3452c2"/>
<rect x="13.05" y="54.52" width="0.9" height="0.9" fill="#3452c2"/>
<rect x="10.7" y="42.16" width="0.9" height="0.9" fill="#3452c2"/>
<rect x="19.47" y="50.99" width="0.9" height="0.9" fill="#3452c2"/>
<rect x="11.78" y="56.95" width="0.9" height="0.9" fill="#3452c2"/>
<rect x="60.12" y="32.11" width="0.9" height="0.9" fill="#3452c2"/>
<rect x="17.07" y="50.38" width="0.9" height="0.9" fill="#3452c2"/>
<rect x="6.24" y="50.31" width="0.9" height="0.9" fill="#3452c2"/>
<rect x="33.19" y="48.98" width="0.9" height="0.9" fill="#3452c2"/>
<rect x="55.89" y="34.67" width="0.9" height="0.9" fill="#3452c2"/>
<rect x="48.9" y="40.59" width="0.9" height="0.9" fill="#3452c2"/>
<rect x="21.73" y="49.54" width="0.9" height="0.9" fill="#3452c2"/>
<rect x="2.07" y="52.67" width="0.9" height="0.9" fill="#3452c2"/>
<rect x="9.48" y="54.99" width="0.9" height="0.9" fill="#3452c2"/>
<rect x="26.31" y="50.15" width="0.9" height="0.9" fill="#3452c2"/>
<rect x="52.08" y="34.73" width="0.9" height="0.9" fill="#3452c2"/>
<rect x="18.06" y="49.8" width="0.9" height="0.9" fill="#3452c2"/>
<rect x="42.84" y="38.62" width="0.9" height="0.9" fill="#3452c2"/>
<rect x="18.66" y="52.76" width="0.9" height="0.9" fill="#3452c2"/>
<rect x="36.52" y="46.77" width="0.9" height="0.9" fill="#3452c2"/>
<rect x="19.12" y="49.52" width="0.9" height="0.9" fill="#3452c2"/>
<rect x="39.35" y="43.42" width="0.9" height="0.9" fill="#3452c2"/>
<rect x="47.42" y="32.36" width="0.9" height="0.9" fill="#3452c2"/>
<rect x="3.49" y="52.33" width="0.9" height="0.9" fill="#3452c2"/>
<rect x="39.65" y="43.37" width="0.9" height="0.9" fill="#3452c2"/>
<rect x="38.82" y="44.33" width="0.9" height="0.9" fill="#3452c2"/>
<rect x="7.97" y="54.14" width="0.9" height="0.9" fill="#3452c2"/>
<rect x="5.79" y="52.45" width="0.9" height="0.9" fill="#3452c2"/>
<rect x="23.97" y="48.17" width="0.9" height="0.9" fill="#3452c2"/>
<rect x="15.05" y="50.46" width="0.9" height="0.9" fill="#3452c2"/>
<rect x="39.97" y="41.75" width="0.9" height="0.9" fill="#3452c2"/>
<rect x="25.88" y="45.02" width="0.9" height="0.9" fill="#3452c2"/>
<rect x="4.72" y="54.38" width="0.9" height="0.9" fill="#3452c2"/>
<rect x="17.68" y="47.88" width="0.9" height="0.9" fill="#3452c2"/>
<rect x="1.72" y="55.61" width="0.9" height="0.9" fill="#3452c2"/>
<rect x="26" y="49.98" width="0.9" height="0.9" fill="#3452c2"/>
<rect x="20.52" y="44.94" width="0.9" height="0.9" fill="#3452c2"/>
<rect x="1.62" y="54.64" width="0.9" height="0.9" fill="#3452c2"/>
<rect x="53.68" y="39.37" width="0.9" height="0.9" fill="#3452c2"/>
<rect x="28.26" y="49.22" width="0.9" height="0.9" fill="#3452c2"/>
<rect x="41" y="39.46" width="0.9" height="0.9" fill="#3452c2"/>
<rect x="34.5" y="34.67" width="0.9" height="0.9" fill="#3452c2"/>
<rect x="41.66" y="44.96" width="0.9" height="0.9" fill="#3452c2"/>
<rect x="39.11" y="38.43" width="0.9" height="0.9" fill="#3452c2"/>
<rect x="19.87" y="46.78" width="0.9" height="0.9" fill="#3452c2"/>
<rect x="46.01" y="41.67" width="0.9" height="0.9" fill="#3452c2"/>
<rect x="43.65" y="40.93" width="0.9" height="0.9" fill="#3452c2"/>
<rect x="37.55" y="45.39" width="0.9" height="0.9" fill="#3452c2"/>
<rect x="47.58" y="37.48" width="0.9" height="0.9" fill="#3452c2"/>
<rect x="31.8" y="39.38" width="0.9" height="0.9" fill="#3452c2"/>
<rect x="32.23" y="47.56" width="0.9" height="0.9" fill="#3452c2"/>
<rect x="38" y="47.46" width="0.9" height="0.9" fill="#3452c2"/>
<rect x="45.77" y="44.02" width="0.9" height="0.9" fill="#3452c2"/>
<rect x="46.34" y="37.74" width="0.9" height="0.9" fill="#3452c2"/>
<rect x="50.35" y="40.69" width="0.9" height="0.9" fill="#3452c2"/>
<rect x="26.88" y="43.73" width="0.9" height="0.9" fill="#3452c2"/>
<rect x="61.65" y="29.8" width="0.9" height="0.9" fill="#3452c2"/>
<rect x="59.14" y="34.87" width="0.9" height="0.9" fill="#3452c2"/>
<rect x="43.67" y="41.87" width="0.9" height="0.9" fill="#3452c2"/>
<rect x="42.92" y="39.72" width="0.9" height="0.9" fill="#3452c2"/>
<rect x="57.06" y="39.05" width="0.9" height="0.9" fill="#3452c2"/>
<rect x="40.14" y="45.16" width="0.9" height="0.9" fill="#3452c2"/>
<rect x="58.38" y="33.67" width="0.9" height="0.9" fill="#3452c2"/>
<rect x="5.17" y="46.86" width="0.9" height="0.9" fill="#3452c2"/>
<rect x="15.66" y="44.14" width="0.9" height="0.9" fill="#3452c2"/>
<rect x="13.13" y="48.29" width="0.9" height="0.9" fill="#3452c2"/>
<rect x="53.29" y="40.14" width="0.9" height="0.9" fill="#3452c2"/>
<rect x="16.14" y="54.05" width="0.9" height="0.9" fill="#3452c2"/>
<rect x="9.01" y="53.17" width="0.9" height="0.9" fill="#3452c2"/>
<rect x="50.57" y="41.68" width="0.9" height="0.9" fill="#3452c2"/>
<rect x="14.45" y="46.84" width="0.9" height="0.9" fill="#3452c2"/>
<rect x="32.57" y="45.03" width="0.9" height="0.9" fill="#3452c2"/>
<rect x="20.03" y="46.32" width="0.9" height="0.9" fill="#3452c2"/>
<rect x="1.82" y="53.82" width="0.9" height="0.9" fill="#3452c2"/>
<rect x="35.71" y="44.78" width="0.9" height="0.9" fill="#3452c2"/>
<rect x="65.18" y="36.65" width="0.9" height="0.9" fill="#3452c2"/>
<rect x="28.8" y="50.59" width="0.9" height="0.9" fill="#3452c2"/>
<rect x="60.67" y="30.14" width="0.9" height="0.9" fill="#3452c2"/>
<rect x="53.18" y="42.44" width="0.9" height="0.9" fill="#3452c2"/>
<rect x="34.58" y="43.33" width="0.9" height="0.9" fill="#3452c2"/>
<rect x="13.13" y="55.84" width="0.9" height="0.9" fill="#3452c2"/>
<rect x="21.76" y="50.28" width="0.9" height="0.9" fill="#3452c2"/>
<rect x="30.01" y="47.3" width="0.9" height="0.9" fill="#3452c2"/>
<rect x="56.6" y="39.06" width="0.9" height="0.9" fill="#3452c2"/>
<rect x="48.63" y="37.56" width="0.9" height="0.9" fill="#3452c2"/>
<rect x="7.26" y="38.65" width="0.9" height="0.9" fill="#3452c2"/>
<rect x="34.33" y="45.36" width="0.9" height="0.9" fill="#3452c2"/>
<rect x="39.1" y="44.82" width="0.9" height="0.9" fill="#3452c2"/>
<rect x="10.7" y="55.92" width="0.9" height="0.9" fill="#3452c2"/>
<rect x="29.78" y="50.54" width="0.9" height="0.9" fill="#3452c2"/>
<rect x="21.31" y="47.74" width="0.9" height="0.9" fill="#3452c2"/>
<rect x="32.23" y="38.84" width="0.9" height="0.9" fill="#3452c2"/>
<rect x="31.29" y="48.48" width="0.9" height="0.9" fill="#3452c2"/>
<rect x="53.36" y="38.83" width="0.9" height="0.9" fill="#3452c2"/>
<rect x="50.52" y="41.38" width="0.9" height="0.9" fill="#3452c2"/>
<rect x="57.94" y="38.5" width="0.9" height="0.9" fill="#3452c2"/>
<rect x="28.66" y="44.34" width="0.9" height="0.9" fill="#3452c2"/>
<rect x="13.15" y="53.17" width="0.9" height="0.9" fill="#3452c2"/>
<rect x="33.92" y="43.22" width="0.9" height="0.9" fill="#3452c2"/>
<rect x="58.72" y="37.14" width="0.9" height="0.9" fill="#3452c2"/>
<rect x="53.77" y="33.22" width="0.9" height="0.9" fill="#3452c2"/>
<rect x="47.79" y="40.26" width="0.9" height="0.9" fill="#3452c2"/>
<rect x="21.18" y="52.72" width="0.9" height="0.9" fill="#3452c2"/>
<rect x="61.33" y="29.31" width="0.9" height="0.9" fill="#3452c2"/>
<rect x="47.54" y="42.4" width="0.9" height="0.9" fill="#3452c2"/>
<rect x="44.72" y="41.35" width="0.9" height="0.9" fill="#3452c2"/>
<rect x="0.85" y="54.55" width="0.9" height="0.9" fill="#3452c2"/>
<rect x="11.25" y="49.39" width="0.9" height="0.9" fill="#3452c2"/>
<rect x="22.93" y="46.11" width="0.9" height="0.9" fill="#3452c2"/>
<rect x="55" y="34.55" width="0.9" height="0.9" fill="#3452c2"/>
<rect x="64.26" y="37.91" width="0.9" height="0.9" fill="#3452c2"/>
<rect x="7.57" y="49.01" width="0.9" height="0.9" fill="#3452c2"/>
<rect x="44.42" y="39.71" width="0.9" height="0.9" fill="#3452c2"/>
<rect x="43.29" y="42.9" width="0.9" height="0.9" fill="#3452c2"/>
<rect x="14.32" y="53.96" width="0.9" height="0.9" fill="#3452c2"/>
<rect x="62.05" y="38.13" width="0.9" height="0.9" fill="#3452c2"/>
<rect x="24.8" y="41.49" width="0.9" height="0.9" fill="#3452c2"/>
<rect x="33.71" y="39.24" width="0.9" height="0.9" fill="#3452c2"/>
<rect x="61.13" y="38.43" width="0.9" height="0.9" fill="#3452c2"/>
<rect x="11.97" y="50.93" width="0.9" height="0.9" fill="#3452c2"/>
<rect x="17.26" y="46.19" width="0.9" height="0.9" fill="#3452c2"/>
<rect x="26.88" y="48.4" width="0.9" height="0.9" fill="#3452c2"/>
<rect x="32.58" y="47.72" width="0.9" height="0.9" fill="#3452c2"/>
<rect x="53.19" y="39.79" width="0.9" height="0.9" fill="#3452c2"/>
<rect x="37.95" y="38.83" width="0.9" height="0.9" fill="#3452c2"/>
<rect x="10.55" y="53.87" width="0.9" height="0.9" fill="#3452c2"/>
<rect x="0.29" y="54.53" width="0.9" height="0.9" fill="#3452c2"/>
<rect x="16.53" y="54.01" width="0.9" height="0.9" fill="#3452c2"/>
<rect x="39.9" y="40.94" width="0.9" height="0.9" fill="#3452c2"/>
<rect x="46.07" y="40.75" width="0.9" height="0.9" fill="#3452c2"/>
<rect x="15.59" y="54.7" width="0.9" height="0.9" fill="#3452c2"/>
<rect x="34.71" y="43.86" width="0.9" height="0.9" fill="#3452c2"/>
<rect x="51.84" y="35.49" width="0.9" height="0.9" fill="#3452c2"/>
<rect x="9.87" y="52.68" width="0.9" height="0.9" fill="#3452c2"/>
<rect x="38.35" y="41.81" width="0.9" height="0.9" fill="#3452c2"/>
<rect x="12.53" y="40.67" width="0.9" height="0.9" fill="#3452c2"/>
<rect x="37.24" y="44.55" width="0.9" height="0.9" fill="#3452c2"/>
<rect x="40.83" y="43.68" width="0.9" height="0.9" fill="#3452c2"/>
<rect x="3.28" y="53.56" width="0.9" height="0.9" fill="#3452c2"/>
<rect x="56.77" y="31.74" width="0.9" height="0.9" fill="#3452c2"/>
<rect x="58.44" y="38.84" width="0.9" height="0.9" fill="#3452c2"/>
<rect x="25.89" y="42.99" width="0.9" height="0.9" fill="#3452c2"/>
<rect x="41.26" y="37.99" width="0.9" height="0.9" fill="#3452c2"/>
<rect x="32.82" y="41.62" width="0.9" height="0.9" fill="#3452c2"/>
<rect x="35.41" y="46.01" width="0.9" height="0.9" fill="#3452c2"/>
<rect x="7.83" y="51.71" width="0.9" height="0.9" fill="#3452c2"/>
<rect x="10.03" y="48.45" width="0.9" height="0.9" fill="#3452c2"/>
<rect x="46.45" y="41.71" width="0.9" height="0.9" fill="#3452c2"/>
<rect x="48.35" y="35.72" width="0.9" height="0.9" fill="#3452c2"/>
<rect x="43.43" y="44.65" width="0.9" height="0.9" fill="#3452c2"/>
<rect x="37.84" y="40.13" width="0.9" height="0.9" fill="#3452c2"/>
<rect x="62.08" y="30.19" width="0.9" height="0.9" fill="#3452c2"/>
<rect x="24.94" y="48.19" width="0.9" height="0.9" fill="#3452c2"/>
<rect x="10.46" y="52.45" width="0.9" height="0.9" fill="#3452c2"/>
<rect x="53.95" y="36.65" width="0.9" height="0.9" fill="#3452c2"/>
<rect x="38.49" y="41.91" width="0.9" height="0.9" fill="#3452c2"/>
<rect x="15.41" y="49" width="0.9" height="0.9" fill="#3452c2"/>
<rect x="3.69" y="54.18" width="0.9" height="0.9" fill="#3452c2"/>
<rect x="40.9" y="39.91" width="0.9" height="0.9" fill="#3452c2"/>
<rect x="49.65" y="37.98" width="0.9" height="0.9" fill="#3452c2"/>
<rect x="45.52" y="38.64" width="0.9" height="0.9" fill="#3452c2"/>
<rect x="59.17" y="39.88" width="0.9" height="0.9" fill="#3452c2"/>
<rect x="54.98" y="39.17" width="0.9" height="0.9" fill="#3452c2"/>
<rect x="43.51" y="40.05" width="0.9" height="0.9" fill="#3452c2"/>
<rect x="18.28" y="45.9" width="0.9" height="0.9" fill="#3452c2"/>
<rect x="60.22" y="34.27" width="0.9" height="0.9" fill="#3452c2"/>
<rect x="7.32" y="54.98" width="0.9" height="0.9" fill="#3452c2"/>
<rect x="54.18" y="38.99" width="0.9" height="0.9" fill="#3452c2"/>
<rect x="54.25" y="39.65" width="0.9" height="0.9" fill="#3452c2"/>
<rect x="21.7" y="47.04" width="0.9" height="0.9" fill="#3452c2"/>
<rect x="63.65" y="27.91" width="0.9" height="0.9" fill="#3452c2"/>
<rect x="54.09" y="37.22" width="0.9" height="0.9" fill="#3452c2"/>
<rect x="48.91" y="40.16" width="0.9" height="0.9" fill="#3452c2"/>
<rect x="7.94" y="46.16" width="0.9" height="0.9" fill="#3452c2"/>
<rect x="38.06" y="44.23" width="0.9" height="0.9" fill="#3452c2"/>
<rect x="39.47" y="46.31" width="0.9" height="0.9" fill="#3452c2"/>
<rect x="23.18" y="45.31" width="0.9" height="0.9" fill="#3452c2"/>
<rect x="0.39" y="54.95" width="0.9" height="0.9" fill="#3452c2"/>
<rect x="16.58" y="49.6" width="0.9" height="0.9" fill="#3452c2"/>
<rect x="45.45" y="39.47" width="0.9" height="0.9" fill="#3452c2"/>
<rect x="35.78" y="45.55" width="0.9" height="0.9" fill="#3452c2"/>
<rect x="10.89" y="49.34" width="0.9" height="0.9" fill="#3452c2"/>
<rect x="3.73" y="54.68" width="0.9" height="0.9" fill="#3452c2"/>
<rect x="52.54" y="36.6" width="0.9" height="0.9" fill="#3452c2"/>
<rect x="7.54" y="48.51" width="0.9" height="0.9" fill="#3452c2"/>
<rect x="28.97" y="44.53" width="0.9" height="0.9" fill="#3452c2"/>
<rect x="56.4" y="39.17" width="0.9" height="0.9" fill="#3452c2"/>
<rect x="63.4" y="38.52" width="0.9" height="0.9" fill="#3452c2"/>
<rect x="11.91" y="50.01" width="0.9" height="0.9" fill="#3452c2"/>
<rect x="28.61" y="45.62" width="0.9" height="0.9" fill="#3452c2"/>
<rect x="37.69" y="43.41" width="0.9" height="0.9" fill="#3452c2"/>
<rect x="28.32" y="43.04" width="0.9" height="0.9" fill="#3452c2"/>
<rect x="10.96" y="54.37" width="0.9" height="0.9" fill="#3452c2"/>
<rect x="23.45" y="49.4" width="0.9" height="0.9" fill="#3452c2"/>
<rect x="57.51" y="31.13" width="0.9" height="0.9" fill="#3452c2"/>
<rect x="60.29" y="35.88" width="0.9" height="0.9" fill="#3452c2"/>
<rect x="28.05" y="46.91" width="0.9" height="0.9" fill="#3452c2"/>
<rect x="23.18" y="45.37" width="0.9" height="0.9" fill="#3452c2"/>
<rect x="32.03" y="44.55" width="0.9" height="0.9" fill="#3452c2"/>
<rect x="11.3" y="52.65" width="0.9" height="0.9" fill="#3452c2"/>
<rect x="2.4" y="57.34" width="0.9" height="0.9" fill="#3452c2"/>
<rect x="47.56" y="32.67" width="0.9" height="0.9" fill="#3452c2"/>
<rect x="60.94" y="38.15" width="0.9" height="0.9" fill="#3452c2"/>
<rect x="51.83" y="38.16" width="0.9" height="0.9" fill="#3452c2"/>
<rect x="67.64" y="68.34" width="0.8" height="0.8" fill="#6a80d0"/>
<rect x="59.83" y="78.09" width="0.8" height="0.8" fill="#6a80d0"/>
<rect x="63.98" y="83.77" width="0.8" height="0.8" fill="#6a80d0"/>
<rect x="76.88" y="63.3" width="0.8" height="0.8" fill="#6a80d0"/>
<rect x="51.18" y="56.09" width="0.8" height="0.8" fill="#6a80d0"/>
<rect x="65.86" y="60.66" width="0.8" height="0.8" fill="#6a80d0"/>
<rect x="72.14" y="44.24" width="0.8" height="0.8" fill="#6a80d0"/>
<rect x="67.77" y="84.16" width="0.8" height="0.8" fill="#6a80d0"/>
<rect x="86.22" y="74.99" width="0.8" height="0.8" fill="#6a80d0"/>
<rect x="76.09" y="71.13" width="0.8" height="0.8" fill="#6a80d0"/>
<rect x="87.97" y="79.56" width="0.8" height="0.8" fill="#6a80d0"/>
<rect x="67.49" y="66.3" width="0.8" height="0.8" fill="#6a80d0"/>
<rect x="85.7" y="68.83" width="0.8" height="0.8" fill="#6a80d0"/>
<rect x="72.74" y="57.84" width="0.8" height="0.8" fill="#6a80d0"/>
<rect x="75.24" y="65.98" width="0.8" height="0.8" fill="#6a80d0"/>
<rect x="85.85" y="88.99" width="0.8" height="0.8" fill="#6a80d0"/>
<rect x="87.85" y="86.78" width="0.8" height="0.8" fill="#6a80d0"/>
<rect x="51.66" y="47.28" width="0.8" height="0.8" fill="#6a80d0"/>
<rect x="62.89" y="81.21" width="0.8" height="0.8" fill="#6a80d0"/>
<rect x="71.21" y="55.56" width="0.8" height="0.8" fill="#6a80d0"/>
<rect x="53.82" y="55.25" width="0.8" height="0.8" fill="#6a80d0"/>
<rect x="54.84" y="50.46" width="0.8" height="0.8" fill="#6a80d0"/>
<rect x="78.31" y="52.69" width="0.8" height="0.8" fill="#6a80d0"/>
<rect x="56.34" y="71.9" width="0.8" height="0.8" fill="#6a80d0"/>
<rect x="54.96" y="81.5" width="0.8" height="0.8" fill="#6a80d0"/>
<rect x="74.71" y="83.5" width="0.8" height="0.8" fill="#6a80d0"/>
<rect x="77.59" y="76.88" width="0.8" height="0.8" fill="#6a80d0"/>
<rect x="60.16" y="63.03" width="0.8" height="0.8" fill="#6a80d0"/>
<rect x="64.43" y="61.64" width="0.8" height="0.8" fill="#6a80d0"/>
<rect x="84.67" y="63.62" width="0.8" height="0.8" fill="#6a80d0"/>
<rect x="80.37" y="72.38" width="0.8" height="0.8" fill="#6a80d0"/>
<rect x="53.14" y="53.47" width="0.8" height="0.8" fill="#6a80d0"/>
<rect x="71.96" y="79.52" width="0.8" height="0.8" fill="#6a80d0"/>
<rect x="58.86" y="55.24" width="0.8" height="0.8" fill="#6a80d0"/>
<rect x="64.33" y="64.66" width="0.8" height="0.8" fill="#6a80d0"/>
<rect x="65.96" y="85.62" width="0.8" height="0.8" fill="#6a80d0"/>
<rect x="73.11" y="56.52" width="0.8" height="0.8" fill="#6a80d0"/>
<rect x="63.08" y="66.85" width="0.8" height="0.8" fill="#6a80d0"/>
<rect x="56.1" y="61.64" width="0.8" height="0.8" fill="#6a80d0"/>
<rect x="52.47" y="73.54" width="0.8" height="0.8" fill="#6a80d0"/>
<rect x="82.95" y="84.45" width="0.8" height="0.8" fill="#6a80d0"/>
<rect x="72.69" y="61.31" width="0.8" height="0.8" fill="#6a80d0"/>
<rect x="71.28" y="69" width="0.8" height="0.8" fill="#6a80d0"/>
<rect x="56.71" y="68.32" width="0.8" height="0.8" fill="#6a80d0"/>
<rect x="68.89" y="52.88" width="0.8" height="0.8" fill="#6a80d0"/>
<rect x="66.83" y="81.63" width="0.8" height="0.8" fill="#6a80d0"/>
<rect x="74.37" y="58.81" width="0.8" height="0.8" fill="#6a80d0"/>
<rect x="59.06" y="72.36" width="0.8" height="0.8" fill="#6a80d0"/>
<rect x="71.01" y="57.41" width="0.8" height="0.8" fill="#6a80d0"/>
<rect x="67.9" y="62.3" width="0.8" height="0.8" fill="#6a80d0"/>
<rect x="73.83" y="83.53" width="0.8" height="0.8" fill="#6a80d0"/>
<rect x="64.17" y="68.21" width="0.8" height="0.8" fill="#6a80d0"/>
<rect x="71.36" y="74.03" width="0.8" height="0.8" fill="#6a80d0"/>
<rect x="59.25" y="55.11" width="0.8" height="0.8" fill="#6a80d0"/>
<rect x="85.05" y="50.54" width="0.8" height="0.8" fill="#6a80d0"/>
<rect x="75.88" y="55.71" width="0.8" height="0.8" fill="#6a80d0"/>
<rect x="68.66" y="64.31" width="0.8" height="0.8" fill="#6a80d0"/>
<rect x="59.08" y="51.93" width="0.8" height="0.8" fill="#6a80d0"/>
<rect x="86.38" y="45.74" width="0.8" height="0.8" fill="#6a80d0"/>
<rect x="55.42" y="77.25" width="0.8" height="0.8" fill="#6a80d0"/>
<rect x="64.11" y="52.78" width="0.8" height="0.8" fill="#6a80d0"/>
<rect x="79.5" y="88.17" width="0.8" height="0.8" fill="#6a80d0"/>
<rect x="57.89" y="75.81" width="0.8" height="0.8" fill="#6a80d0"/>
<rect x="65.06" y="88.9" width="0.8" height="0.8" fill="#6a80d0"/>
<rect x="72.68" y="84.27" width="0.8" height="0.8" fill="#6a80d0"/>
<rect x="75.2" y="49.92" width="0.8" height="0.8" fill="#6a80d0"/>
<rect x="66.79" y="75.74" width="0.8" height="0.8" fill="#6a80d0"/>
<rect x="55.81" y="47.96" width="0.8" height="0.8" fill="#6a80d0"/>
<rect x="87.65" y="85.57" width="0.8" height="0.8" fill="#6a80d0"/>
<rect x="74.73" y="46.86" width="0.8" height="0.8" fill="#6a80d0"/>
<rect x="64.41" y="45.89" width="0.9" height="0.9" fill="#3a56c4"/>
<rect x="65.39" y="43.15" width="0.9" height="0.9" fill="#3a56c4"/>
<rect x="61.28" y="42.32" width="0.9" height="0.9" fill="#3a56c4"/>
<rect x="67.12" y="40.99" width="0.9" height="0.9" fill="#3a56c4"/>
<rect x="56.89" y="37.45" width="0.9" height="0.9" fill="#3a56c4"/>
<rect x="67.43" y="43.1" width="0.9" height="0.9" fill="#3a56c4"/>
<rect x="67.22" y="37.48" width="0.9" height="0.9" fill="#3a56c4"/>
<rect x="57.26" y="42.83" width="0.9" height="0.9" fill="#3a56c4"/>
<rect x="61.14" y="40.63" width="0.9" height="0.9" fill="#3a56c4"/>
<rect x="58.79" y="43.63" width="0.9" height="0.9" fill="#3a56c4"/>
</g>
<rect x="17.4" y="949.5" width="89.4" height="89.4" fill="none" stroke="#111" stroke-width="1.7"/>
<line x1="15.6" y1="956.9" x2="17.4" y2="956.9" stroke="#222" stroke-width="0.9"/>
<line x1="15.6" y1="963.5" x2="17.4" y2="963.5" stroke="#222" stroke-width="0.9"/>
<line x1="15.6" y1="977.2" x2="17.4" y2="977.2" stroke="#222" stroke-width="0.9"/>
<line x1="15.6" y1="983.8" x2="17.4" y2="983.8" stroke="#222" stroke-width="0.9"/>
<line x1="15.6" y1="998.3" x2="17.4" y2="998.3" stroke="#222" stroke-width="0.9"/>
<line x1="15.6" y1="1004.8" x2="17.4" y2="1004.8" stroke="#222" stroke-width="0.9"/>
<line x1="15.6" y1="1020.2" x2="17.4" y2="1020.2" stroke="#222" stroke-width="0.9"/>
<line x1="15.6" y1="1024.5" x2="17.4" y2="1024.5" stroke="#222" stroke-width="0.9"/>
<line x1="15.6" y1="1029.2" x2="17.4" y2="1029.2" stroke="#222" stroke-width="0.9"/>
<line x1="15.6" y1="1033.1" x2="17.4" y2="1033.1" stroke="#222" stroke-width="0.9"/>
<line x1="19.4" y1="1038.9" x2="19.4" y2="1040.7" stroke="#222" stroke-width="0.9"/>
<line x1="22.9" y1="1038.9" x2="22.9" y2="1040.7" stroke="#222" stroke-width="0.9"/>
<line x1="25.4" y1="1038.9" x2="25.4" y2="1040.7" stroke="#222" stroke-width="0.9"/>
<line x1="31.4" y1="1038.9" x2="31.4" y2="1040.7" stroke="#222" stroke-width="0.9"/>
<line x1="37.4" y1="1038.9" x2="37.4" y2="1040.7" stroke="#222" stroke-width="0.9"/>
<line x1="43.4" y1="1038.9" x2="43.4" y2="1040.7" stroke="#222" stroke-width="0.9"/>
<line x1="50.4" y1="1038.9" x2="50.4" y2="1040.7" stroke="#222" stroke-width="0.9"/>
<line x1="58.4" y1="1038.9" x2="58.4" y2="1040.7" stroke="#222" stroke-width="0.9"/>
<line x1="66.4" y1="1038.9" x2="66.4" y2="1040.7" stroke="#222" stroke-width="0.9"/>
<line x1="73.4" y1="1038.9" x2="73.4" y2="1040.7" stroke="#222" stroke-width="0.9"/>
<line x1="79.4" y1="1038.9" x2="79.4" y2="1040.7" stroke="#222" stroke-width="0.9"/>
<line x1="87.4" y1="1038.9" x2="87.4" y2="1040.7" stroke="#222" stroke-width="0.9"/>
<line x1="94.4" y1="1038.9" x2="94.4" y2="1040.7" stroke="#222" stroke-width="0.9"/>
<line x1="101.4" y1="1038.9" x2="101.4" y2="1040.7" stroke="#222" stroke-width="0.9"/>
<ellipse cx="83" cy="985.6" rx="11.8" ry="12.3" fill="none" stroke="#111" stroke-width="1.1"/>
<g transform="translate(117.9,949.8)" clip-path="url(#fc)">
<g filter="url(#bl2)"><polygon points="0,47 14,43 30,37 44,30 54,25 62,22 72,24 75,31 70,40 62,46 50,50 30,56 0,60" fill="#7f95dc" opacity="0.4"/></g>
<g filter="url(#bl15)"><polygon points="0,58.5 10,56.5 20,52.5 30,48 40,44 50,40.5 56,37 62,33 68,36 68,44 62,52 56,60 52,70 49,80 48,89.4 0,89.4" fill="#2f49bc"/></g>
<g filter="url(#bl15)"><ellipse cx="62.5" cy="38.5" rx="7.5" ry="6.5" fill="#3458cc" opacity="0.9"/></g>
<g filter="url(#bl2)"><polygon points="0,62 12,60 26,59 40,55 46,52 50,56 46,70 42,82 36,86 20,86 0,84" fill="#3862d4"/></g>
<g filter="url(#bl15)"><polygon points="4,64 20,59 48,55 50,60 40,82 34,87 22,80 6,72" fill="#4fb8e6"/></g>
<g filter="url(#bl15)"><ellipse cx="49" cy="49" rx="6.5" ry="4.6" fill="#4fb4e0" transform="rotate(-25 49 49)"/></g>
<g filter="url(#bl1)"><polygon points="4,63 46,58.5 35.5,82.5" fill="#86c653"/></g>
<g filter="url(#bl1)"><ellipse cx="49" cy="49" rx="4.4" ry="2.9" fill="#74c060" transform="rotate(-25 49 49)"/></g>
<g filter="url(#bl1)"><ellipse cx="33.6" cy="65.5" rx="8.5" ry="6.5" fill="#d8e048"/></g>
<g filter="url(#bl1)"><ellipse cx="33.6" cy="65.5" rx="5.6" ry="4.2" fill="#f2b030"/></g>
<g filter="url(#bl08)"><ellipse cx="33.6" cy="65.5" rx="3.4" ry="2.5" fill="#dc2a1c"/></g>
<rect x="8.11" y="79.04" width="1" height="1" fill="#5b80e2" opacity="0.8"/>
<rect x="3.74" y="88.43" width="1" height="1" fill="#5b80e2" opacity="0.8"/>
<rect x="2.69" y="60.24" width="1" height="1" fill="#22369e" opacity="0.8"/>
<rect x="24.87" y="89.27" width="1" height="1" fill="#5b80e2" opacity="0.8"/>
<rect x="50" y="59.34" width="1" height="1" fill="#22369e" opacity="0.8"/>
<rect x="65.43" y="42.12" width="1" height="1" fill="#5b80e2" opacity="0.8"/>
<rect x="10.42" y="57.89" width="1" height="1" fill="#22369e" opacity="0.8"/>
<rect x="24.12" y="87.82" width="1" height="1" fill="#5b80e2" opacity="0.8"/>
<rect x="27.19" y="83.14" width="1" height="1" fill="#22369e" opacity="0.8"/>
<rect x="57.38" y="40.46" width="1" height="1" fill="#5b80e2" opacity="0.8"/>
<rect x="17.58" y="86.69" width="1" height="1" fill="#5b80e2" opacity="0.8"/>
<rect x="53.96" y="57.93" width="1" height="1" fill="#22369e" opacity="0.8"/>
<rect x="3.46" y="87.37" width="1" height="1" fill="#22369e" opacity="0.8"/>
<rect x="62.99" y="48.98" width="1" height="1" fill="#5b80e2" opacity="0.8"/>
<rect x="15.76" y="55.06" width="1" height="1" fill="#22369e" opacity="0.8"/>
<rect x="52.25" y="42.63" width="1" height="1" fill="#22369e" opacity="0.8"/>
<rect x="1.6" y="84.52" width="1" height="1" fill="#5b80e2" opacity="0.8"/>
<rect x="48.82" y="75.09" width="1" height="1" fill="#5b80e2" opacity="0.8"/>
<rect x="55.87" y="55.8" width="1" height="1" fill="#22369e" opacity="0.8"/>
<rect x="54.43" y="39.36" width="1" height="1" fill="#5b80e2" opacity="0.8"/>
<rect x="7.49" y="75.81" width="1" height="1" fill="#22369e" opacity="0.8"/>
<rect x="53.75" y="61.16" width="1" height="1" fill="#22369e" opacity="0.8"/>
<rect x="39.51" y="83.51" width="1" height="1" fill="#22369e" opacity="0.8"/>
<rect x="59.53" y="45.8" width="1" height="1" fill="#22369e" opacity="0.8"/>
<rect x="40.29" y="49.97" width="1" height="1" fill="#22369e" opacity="0.8"/>
<rect x="2.81" y="82.48" width="1" height="1" fill="#22369e" opacity="0.8"/>
<rect x="56.25" y="59.29" width="1" height="1" fill="#5b80e2" opacity="0.8"/>
<rect x="46.53" y="68.43" width="1" height="1" fill="#5b80e2" opacity="0.8"/>
<rect x="11.61" y="59.67" width="1" height="1" fill="#5b80e2" opacity="0.8"/>
<rect x="64.16" y="46.6" width="1" height="1" fill="#5b80e2" opacity="0.8"/>
<rect x="48" y="78.02" width="1" height="1" fill="#22369e" opacity="0.8"/>
<rect x="2.54" y="79.02" width="1" height="1" fill="#22369e" opacity="0.8"/>
<rect x="46.18" y="74.36" width="1" height="1" fill="#5b80e2" opacity="0.8"/>
<rect x="44.04" y="86.63" width="1" height="1" fill="#22369e" opacity="0.8"/>
<rect x="27.87" y="55.74" width="1" height="1" fill="#5b80e2" opacity="0.8"/>
<rect x="2.48" y="87.74" width="1" height="1" fill="#22369e" opacity="0.8"/>
<rect x="50.32" y="61.71" width="1" height="1" fill="#5b80e2" opacity="0.8"/>
<rect x="36.99" y="87.05" width="1" height="1" fill="#5b80e2" opacity="0.8"/>
<rect x="11.35" y="58.59" width="1" height="1" fill="#5b80e2" opacity="0.8"/>
<rect x="11.57" y="77.39" width="1" height="1" fill="#22369e" opacity="0.8"/>
<rect x="61.42" y="52.52" width="1" height="1" fill="#22369e" opacity="0.8"/>
<rect x="55.41" y="40.71" width="1" height="1" fill="#5b80e2" opacity="0.8"/>
<rect x="47.32" y="43.69" width="1" height="1" fill="#22369e" opacity="0.8"/>
<rect x="47.35" y="81.31" width="1" height="1" fill="#5b80e2" opacity="0.8"/>
<rect x="28.16" y="85.2" width="1" height="1" fill="#22369e" opacity="0.8"/>
<rect x="8.67" y="80.27" width="1" height="1" fill="#22369e" opacity="0.8"/>
<rect x="45.21" y="76.24" width="1" height="1" fill="#22369e" opacity="0.8"/>
<rect x="61.3" y="45.28" width="1" height="1" fill="#22369e" opacity="0.8"/>
<rect x="49.32" y="63.01" width="1" height="1" fill="#22369e" opacity="0.8"/>
<rect x="18.23" y="80.71" width="1" height="1" fill="#5b80e2" opacity="0.8"/>
<rect x="5.54" y="86.76" width="1" height="1" fill="#22369e" opacity="0.8"/>
<rect x="1.18" y="73.14" width="1" height="1" fill="#5b80e2" opacity="0.8"/>
<rect x="16.21" y="59.69" width="1" height="1" fill="#5b80e2" opacity="0.8"/>
<rect x="36.23" y="45.61" width="1" height="1" fill="#22369e" opacity="0.8"/>
<rect x="56.27" y="57.01" width="1" height="1" fill="#22369e" opacity="0.8"/>
<rect x="45.08" y="88.46" width="1" height="1" fill="#5b80e2" opacity="0.8"/>
<rect x="23.09" y="84.57" width="1" height="1" fill="#5b80e2" opacity="0.8"/>
<rect x="55.79" y="47.63" width="1" height="1" fill="#5b80e2" opacity="0.8"/>
<rect x="59.55" y="53.38" width="1" height="1" fill="#5b80e2" opacity="0.8"/>
<rect x="50.92" y="64" width="1" height="1" fill="#22369e" opacity="0.8"/>
<rect x="22.94" y="56.84" width="1" height="1" fill="#22369e" opacity="0.8"/>
<rect x="17.47" y="55.44" width="1" height="1" fill="#22369e" opacity="0.8"/>
<rect x="22.43" y="84.27" width="1" height="1" fill="#22369e" opacity="0.8"/>
<rect x="45.4" y="87.61" width="1" height="1" fill="#22369e" opacity="0.8"/>
<rect x="4.03" y="85.6" width="1" height="1" fill="#22369e" opacity="0.8"/>
<rect x="42.18" y="44.2" width="1" height="1" fill="#22369e" opacity="0.8"/>
<rect x="54.64" y="38.18" width="1" height="1" fill="#5b80e2" opacity="0.8"/>
<rect x="53.45" y="54.89" width="1" height="1" fill="#22369e" opacity="0.8"/>
<rect x="14" y="76.05" width="1" height="1" fill="#22369e" opacity="0.8"/>
<rect x="4.48" y="88.79" width="1" height="1" fill="#5b80e2" opacity="0.8"/>
<rect x="6.57" y="84.26" width="1" height="1" fill="#22369e" opacity="0.8"/>
<rect x="42.7" y="87.94" width="1" height="1" fill="#22369e" opacity="0.8"/>
<rect x="46.79" y="85.99" width="1" height="1" fill="#5b80e2" opacity="0.8"/>
<rect x="41.87" y="88.25" width="1" height="1" fill="#5b80e2" opacity="0.8"/>
<rect x="53.96" y="41.26" width="1" height="1" fill="#5b80e2" opacity="0.8"/>
<rect x="40.74" y="46.08" width="1" height="1" fill="#22369e" opacity="0.8"/>
<rect x="47.21" y="41.76" width="1" height="1" fill="#22369e" opacity="0.8"/>
<rect x="47.45" y="89.27" width="1" height="1" fill="#5b80e2" opacity="0.8"/>
<rect x="10.18" y="83.56" width="1" height="1" fill="#5b80e2" opacity="0.8"/>
<rect x="55.87" y="54.54" width="1" height="1" fill="#22369e" opacity="0.8"/>
<rect x="22.26" y="88.3" width="1" height="1" fill="#5b80e2" opacity="0.8"/>
<rect x="56.42" y="55.3" width="1" height="1" fill="#22369e" opacity="0.8"/>
<rect x="18.83" y="53.7" width="1" height="1" fill="#5b80e2" opacity="0.8"/>
<rect x="10.71" y="79.02" width="1" height="1" fill="#5b80e2" opacity="0.8"/>
<rect x="37.94" y="49.04" width="1" height="1" fill="#5b80e2" opacity="0.8"/>
<rect x="49.05" y="75.59" width="1" height="1" fill="#5b80e2" opacity="0.8"/>
<rect x="38.23" y="55.09" width="1" height="1" fill="#22369e" opacity="0.8"/>
<rect x="59.19" y="39.44" width="1" height="1" fill="#22369e" opacity="0.8"/>
<rect x="28.4" y="56.74" width="1" height="1" fill="#5b80e2" opacity="0.8"/>
<rect x="32.34" y="54.89" width="1" height="1" fill="#22369e" opacity="0.8"/>
<rect x="35.37" y="56.08" width="1" height="1" fill="#22369e" opacity="0.8"/>
<rect x="48.33" y="80.5" width="1" height="1" fill="#22369e" opacity="0.8"/>
<rect x="1.99" y="63.05" width="1" height="1" fill="#22369e" opacity="0.8"/>
<rect x="7.3" y="75.1" width="1" height="1" fill="#5b80e2" opacity="0.8"/>
<rect x="12.86" y="75.57" width="1" height="1" fill="#5b80e2" opacity="0.8"/>
<rect x="30.2" y="87.67" width="1" height="1" fill="#5b80e2" opacity="0.8"/>
<rect x="46.83" y="73.63" width="1" height="1" fill="#5b80e2" opacity="0.8"/>
<rect x="37.99" y="50.89" width="1" height="1" fill="#5b80e2" opacity="0.8"/>
<rect x="5.57" y="59.96" width="1" height="1" fill="#22369e" opacity="0.8"/>
<rect x="49.01" y="79.45" width="1" height="1" fill="#22369e" opacity="0.8"/>
<rect x="23.29" y="83.28" width="1" height="1" fill="#5b80e2" opacity="0.8"/>
<rect x="42.25" y="55.21" width="1" height="1" fill="#5b80e2" opacity="0.8"/>
<rect x="28.77" y="49.11" width="1" height="1" fill="#5b80e2" opacity="0.8"/>
<rect x="46.14" y="69.65" width="1" height="1" fill="#5b80e2" opacity="0.8"/>
<rect x="13.47" y="76.91" width="1" height="1" fill="#22369e" opacity="0.8"/>
<rect x="8.69" y="61.12" width="1" height="1" fill="#22369e" opacity="0.8"/>
<rect x="48.58" y="63.6" width="1" height="1" fill="#22369e" opacity="0.8"/>
<rect x="61.43" y="40.75" width="1" height="1" fill="#22369e" opacity="0.8"/>
<rect x="41.28" y="87.6" width="1" height="1" fill="#5b80e2" opacity="0.8"/>
<rect x="58.46" y="35.67" width="1" height="1" fill="#22369e" opacity="0.8"/>
<rect x="63.47" y="47.92" width="1" height="1" fill="#22369e" opacity="0.8"/>
<rect x="25.96" y="55.45" width="1" height="1" fill="#22369e" opacity="0.8"/>
<rect x="26.66" y="53.35" width="1" height="1" fill="#22369e" opacity="0.8"/>
<rect x="59.6" y="48.95" width="1" height="1" fill="#22369e" opacity="0.8"/>
<rect x="16.08" y="56.88" width="1" height="1" fill="#5b80e2" opacity="0.8"/>
<rect x="52.99" y="39.9" width="1" height="1" fill="#22369e" opacity="0.8"/>
<rect x="45.73" y="70.21" width="1" height="1" fill="#5b80e2" opacity="0.8"/>
<rect x="29.63" y="57.42" width="1" height="1" fill="#22369e" opacity="0.8"/>
<rect x="45.54" y="77.9" width="1" height="1" fill="#5b80e2" opacity="0.8"/>
<rect x="54.66" y="43.61" width="1" height="1" fill="#5b80e2" opacity="0.8"/>
<rect x="17.63" y="86.4" width="1" height="1" fill="#5b80e2" opacity="0.8"/>
<rect x="50.13" y="65.48" width="1" height="1" fill="#22369e" opacity="0.8"/>
<rect x="10.97" y="79.86" width="1" height="1" fill="#22369e" opacity="0.8"/>
<rect x="39.41" y="43.59" width="0.9" height="0.9" fill="#3452c2"/>
<rect x="37.43" y="46.6" width="0.9" height="0.9" fill="#3452c2"/>
<rect x="19.16" y="54.41" width="0.9" height="0.9" fill="#3452c2"/>
<rect x="42.58" y="37.11" width="0.9" height="0.9" fill="#3452c2"/>
<rect x="46.53" y="38.02" width="0.9" height="0.9" fill="#3452c2"/>
<rect x="55.91" y="41.15" width="0.9" height="0.9" fill="#3452c2"/>
<rect x="33.24" y="44.78" width="0.9" height="0.9" fill="#3452c2"/>
<rect x="39.88" y="40.86" width="0.9" height="0.9" fill="#3452c2"/>
<rect x="15.23" y="51.56" width="0.9" height="0.9" fill="#3452c2"/>
<rect x="47.39" y="43.22" width="0.9" height="0.9" fill="#3452c2"/>
<rect x="13.64" y="54.38" width="0.9" height="0.9" fill="#3452c2"/>
<rect x="27.96" y="44.93" width="0.9" height="0.9" fill="#3452c2"/>
<rect x="46.49" y="34.92" width="0.9" height="0.9" fill="#3452c2"/>
<rect x="38.31" y="48.28" width="0.9" height="0.9" fill="#3452c2"/>
<rect x="54.66" y="37.21" width="0.9" height="0.9" fill="#3452c2"/>
<rect x="41" y="43.08" width="0.9" height="0.9" fill="#3452c2"/>
<rect x="29.3" y="42.84" width="0.9" height="0.9" fill="#3452c2"/>
<rect x="26.05" y="49.35" width="0.9" height="0.9" fill="#3452c2"/>
<rect x="59.92" y="32" width="0.9" height="0.9" fill="#3452c2"/>
<rect x="49.08" y="35.74" width="0.9" height="0.9" fill="#3452c2"/>
<rect x="7" y="53.72" width="0.9" height="0.9" fill="#3452c2"/>
<rect x="32.94" y="47.18" width="0.9" height="0.9" fill="#3452c2"/>
<rect x="44.43" y="43.3" width="0.9" height="0.9" fill="#3452c2"/>
<rect x="18.8" y="50.19" width="0.9" height="0.9" fill="#3452c2"/>
<rect x="11.23" y="50.39" width="0.9" height="0.9" fill="#3452c2"/>
<rect x="46.75" y="40.33" width="0.9" height="0.9" fill="#3452c2"/>
<rect x="54.89" y="32.52" width="0.9" height="0.9" fill="#3452c2"/>
<rect x="39.14" y="45.4" width="0.9" height="0.9" fill="#3452c2"/>
<rect x="55.81" y="36.99" width="0.9" height="0.9" fill="#3452c2"/>
<rect x="66.03" y="38.22" width="0.9" height="0.9" fill="#3452c2"/>
<rect x="19.59" y="51.04" width="0.9" height="0.9" fill="#3452c2"/>
<rect x="61.25" y="34.41" width="0.9" height="0.9" fill="#3452c2"/>
<rect x="23.12" y="50.67" width="0.9" height="0.9" fill="#3452c2"/>
<rect x="4.16" y="56" width="0.9" height="0.9" fill="#3452c2"/>
<rect x="40.99" y="42.25" width="0.9" height="0.9" fill="#3452c2"/>
<rect x="32.38" y="44.5" width="0.9" height="0.9" fill="#3452c2"/>
<rect x="63.47" y="36.68" width="0.9" height="0.9" fill="#3452c2"/>
<rect x="54.14" y="35.83" width="0.9" height="0.9" fill="#3452c2"/>
<rect x="18.69" y="43.28" width="0.9" height="0.9" fill="#3452c2"/>
<rect x="12.23" y="52.33" width="0.9" height="0.9" fill="#3452c2"/>
<rect x="60.39" y="39.01" width="0.9" height="0.9" fill="#3452c2"/>
<rect x="46.2" y="32.37" width="0.9" height="0.9" fill="#3452c2"/>
<rect x="57.96" y="37.17" width="0.9" height="0.9" fill="#3452c2"/>
<rect x="49.7" y="41.66" width="0.9" height="0.9" fill="#3452c2"/>
<rect x="5.73" y="53.09" width="0.9" height="0.9" fill="#3452c2"/>
<rect x="48.29" y="40.33" width="0.9" height="0.9" fill="#3452c2"/>
<rect x="13.08" y="45.88" width="0.9" height="0.9" fill="#3452c2"/>
<rect x="21.72" y="41.45" width="0.9" height="0.9" fill="#3452c2"/>
<rect x="39.9" y="41.7" width="0.9" height="0.9" fill="#3452c2"/>
<rect x="60.96" y="34.94" width="0.9" height="0.9" fill="#3452c2"/>
<rect x="50.16" y="36.78" width="0.9" height="0.9" fill="#3452c2"/>
<rect x="25.91" y="48.46" width="0.9" height="0.9" fill="#3452c2"/>
<rect x="1.05" y="55.85" width="0.9" height="0.9" fill="#3452c2"/>
<rect x="17.25" y="51.67" width="0.9" height="0.9" fill="#3452c2"/>
<rect x="19.21" y="48.99" width="0.9" height="0.9" fill="#3452c2"/>
<rect x="16.88" y="52.21" width="0.9" height="0.9" fill="#3452c2"/>
<rect x="60.96" y="39.33" width="0.9" height="0.9" fill="#3452c2"/>
<rect x="30.98" y="43.76" width="0.9" height="0.9" fill="#3452c2"/>
<rect x="60.45" y="38.72" width="0.9" height="0.9" fill="#3452c2"/>
<rect x="35.56" y="42.97" width="0.9" height="0.9" fill="#3452c2"/>
<rect x="44.9" y="38.29" width="0.9" height="0.9" fill="#3452c2"/>
<rect x="36.49" y="41.3" width="0.9" height="0.9" fill="#3452c2"/>
<rect x="36.69" y="46.84" width="0.9" height="0.9" fill="#3452c2"/>
<rect x="54.39" y="35.58" width="0.9" height="0.9" fill="#3452c2"/>
<rect x="10.98" y="50.77" width="0.9" height="0.9" fill="#3452c2"/>
<rect x="53.33" y="38.01" width="0.9" height="0.9" fill="#3452c2"/>
<rect x="33.52" y="41.44" width="0.9" height="0.9" fill="#3452c2"/>
<rect x="37.41" y="46.71" width="0.9" height="0.9" fill="#3452c2"/>
<rect x="42.47" y="38.6" width="0.9" height="0.9" fill="#3452c2"/>
<rect x="12.41" y="54.62" width="0.9" height="0.9" fill="#3452c2"/>
<rect x="30.31" y="46.04" width="0.9" height="0.9" fill="#3452c2"/>
<rect x="17.99" y="51.58" width="0.9" height="0.9" fill="#3452c2"/>
<rect x="57.45" y="36.32" width="0.9" height="0.9" fill="#3452c2"/>
<rect x="53.23" y="38.72" width="0.9" height="0.9" fill="#3452c2"/>
<rect x="23.38" y="51.29" width="0.9" height="0.9" fill="#3452c2"/>
<rect x="39.35" y="44.92" width="0.9" height="0.9" fill="#3452c2"/>
<rect x="44.21" y="40.96" width="0.9" height="0.9" fill="#3452c2"/>
<rect x="11.46" y="52.42" width="0.9" height="0.9" fill="#3452c2"/>
<rect x="48.9" y="35.61" width="0.9" height="0.9" fill="#3452c2"/>
<rect x="1.68" y="55.34" width="0.9" height="0.9" fill="#3452c2"/>
<rect x="15.38" y="54.37" width="0.9" height="0.9" fill="#3452c2"/>
<rect x="33.46" y="32.5" width="0.9" height="0.9" fill="#3452c2"/>
<rect x="4.93" y="53.75" width="0.9" height="0.9" fill="#3452c2"/>
<rect x="3" y="47.09" width="0.9" height="0.9" fill="#3452c2"/>
<rect x="7.52" y="53.45" width="0.9" height="0.9" fill="#3452c2"/>
<rect x="29.17" y="49.34" width="0.9" height="0.9" fill="#3452c2"/>
<rect x="67.23" y="28.31" width="0.9" height="0.9" fill="#3452c2"/>
<rect x="15.34" y="47.39" width="0.9" height="0.9" fill="#3452c2"/>
<rect x="9.45" y="51.04" width="0.9" height="0.9" fill="#3452c2"/>
<rect x="20.02" y="38.11" width="0.9" height="0.9" fill="#3452c2"/>
<rect x="43.93" y="44.46" width="0.9" height="0.9" fill="#3452c2"/>
<rect x="46.15" y="43.16" width="0.9" height="0.9" fill="#3452c2"/>
<rect x="49.24" y="38.44" width="0.9" height="0.9" fill="#3452c2"/>
<rect x="56.54" y="38.4" width="0.9" height="0.9" fill="#3452c2"/>
<rect x="52.71" y="34.13" width="0.9" height="0.9" fill="#3452c2"/>
<rect x="13.35" y="51.82" width="0.9" height="0.9" fill="#3452c2"/>
<rect x="37.91" y="44.03" width="0.9" height="0.9" fill="#3452c2"/>
<rect x="11.86" y="53.75" width="0.9" height="0.9" fill="#3452c2"/>
<rect x="34.51" y="49.15" width="0.9" height="0.9" fill="#3452c2"/>
<rect x="58.7" y="35.02" width="0.9" height="0.9" fill="#3452c2"/>
<rect x="3.86" y="53" width="0.9" height="0.9" fill="#3452c2"/>
<rect x="20.3" y="52.96" width="0.9" height="0.9" fill="#3452c2"/>
<rect x="12.28" y="45.86" width="0.9" height="0.9" fill="#3452c2"/>
<rect x="47.64" y="38.34" width="0.9" height="0.9" fill="#3452c2"/>
<rect x="12.91" y="54.05" width="0.9" height="0.9" fill="#3452c2"/>
<rect x="50.28" y="30.56" width="0.9" height="0.9" fill="#3452c2"/>
<rect x="0.08" y="54.17" width="0.9" height="0.9" fill="#3452c2"/>
<rect x="7.55" y="54.35" width="0.9" height="0.9" fill="#3452c2"/>
<rect x="50.7" y="42.04" width="0.9" height="0.9" fill="#3452c2"/>
<rect x="26.49" y="49.11" width="0.9" height="0.9" fill="#3452c2"/>
<rect x="9.49" y="55.34" width="0.9" height="0.9" fill="#3452c2"/>
<rect x="17.61" y="49.35" width="0.9" height="0.9" fill="#3452c2"/>
<rect x="8.5" y="52.34" width="0.9" height="0.9" fill="#3452c2"/>
<rect x="47.81" y="40.6" width="0.9" height="0.9" fill="#3452c2"/>
<rect x="12.84" y="46.39" width="0.9" height="0.9" fill="#3452c2"/>
<rect x="22.64" y="43.22" width="0.9" height="0.9" fill="#3452c2"/>
<rect x="14.44" y="49.56" width="0.9" height="0.9" fill="#3452c2"/>
<rect x="15.12" y="54.37" width="0.9" height="0.9" fill="#3452c2"/>
<rect x="37.29" y="41.38" width="0.9" height="0.9" fill="#3452c2"/>
<rect x="64.11" y="29.86" width="0.9" height="0.9" fill="#3452c2"/>
<rect x="62.62" y="30.73" width="0.9" height="0.9" fill="#3452c2"/>
<rect x="50.52" y="41.51" width="0.9" height="0.9" fill="#3452c2"/>
<rect x="14.86" y="52.49" width="0.9" height="0.9" fill="#3452c2"/>
<rect x="27.87" y="48.73" width="0.9" height="0.9" fill="#3452c2"/>
<rect x="24.06" y="45.24" width="0.9" height="0.9" fill="#3452c2"/>
<rect x="20.42" y="48.56" width="0.9" height="0.9" fill="#3452c2"/>
<rect x="34.1" y="41.83" width="0.9" height="0.9" fill="#3452c2"/>
<rect x="18.37" y="51.36" width="0.9" height="0.9" fill="#3452c2"/>
<rect x="30.64" y="44.15" width="0.9" height="0.9" fill="#3452c2"/>
<rect x="42.65" y="41.02" width="0.9" height="0.9" fill="#3452c2"/>
<rect x="3.39" y="57.05" width="0.9" height="0.9" fill="#3452c2"/>
<rect x="30.35" y="45.24" width="0.9" height="0.9" fill="#3452c2"/>
<rect x="21.82" y="51.02" width="0.9" height="0.9" fill="#3452c2"/>
<rect x="26.3" y="47.27" width="0.9" height="0.9" fill="#3452c2"/>
<rect x="16.62" y="50.57" width="0.9" height="0.9" fill="#3452c2"/>
<rect x="25.89" y="39.94" width="0.9" height="0.9" fill="#3452c2"/>
<rect x="17.96" y="45.34" width="0.9" height="0.9" fill="#3452c2"/>
<rect x="48.84" y="36.75" width="0.9" height="0.9" fill="#3452c2"/>
<rect x="25.49" y="48.07" width="0.9" height="0.9" fill="#3452c2"/>
<rect x="57.79" y="37.25" width="0.9" height="0.9" fill="#3452c2"/>
<rect x="62.59" y="38.46" width="0.9" height="0.9" fill="#3452c2"/>
<rect x="32.99" y="43.31" width="0.9" height="0.9" fill="#3452c2"/>
<rect x="66.69" y="34.75" width="0.9" height="0.9" fill="#3452c2"/>
<rect x="14.4" y="50.75" width="0.9" height="0.9" fill="#3452c2"/>
<rect x="11.71" y="53.83" width="0.9" height="0.9" fill="#3452c2"/>
<rect x="34.04" y="42.27" width="0.9" height="0.9" fill="#3452c2"/>
<rect x="58.4" y="39.95" width="0.9" height="0.9" fill="#3452c2"/>
<rect x="25.22" y="48.62" width="0.9" height="0.9" fill="#3452c2"/>
<rect x="46.49" y="35.6" width="0.9" height="0.9" fill="#3452c2"/>
<rect x="65.46" y="35.05" width="0.9" height="0.9" fill="#3452c2"/>
<rect x="37.84" y="45.18" width="0.9" height="0.9" fill="#3452c2"/>
<rect x="23.68" y="42.32" width="0.9" height="0.9" fill="#3452c2"/>
<rect x="36" y="43.41" width="0.9" height="0.9" fill="#3452c2"/>
<rect x="23.38" y="46.3" width="0.9" height="0.9" fill="#3452c2"/>
<rect x="9.5" y="55.88" width="0.9" height="0.9" fill="#3452c2"/>
<rect x="6.45" y="54.63" width="0.9" height="0.9" fill="#3452c2"/>
<rect x="30.77" y="43.17" width="0.9" height="0.9" fill="#3452c2"/>
<rect x="14.95" y="47.59" width="0.9" height="0.9" fill="#3452c2"/>
<rect x="3.5" y="51.76" width="0.9" height="0.9" fill="#3452c2"/>
<rect x="49.72" y="36.23" width="0.9" height="0.9" fill="#3452c2"/>
<rect x="16.32" y="49.09" width="0.9" height="0.9" fill="#3452c2"/>
<rect x="22.73" y="41.47" width="0.9" height="0.9" fill="#3452c2"/>
<rect x="52.72" y="38.61" width="0.9" height="0.9" fill="#3452c2"/>
<rect x="43.37" y="36.45" width="0.9" height="0.9" fill="#3452c2"/>
<rect x="55.81" y="37.8" width="0.9" height="0.9" fill="#3452c2"/>
<rect x="45.13" y="41.04" width="0.9" height="0.9" fill="#3452c2"/>
<rect x="68.15" y="31.55" width="0.9" height="0.9" fill="#3452c2"/>
<rect x="26.08" y="46.06" width="0.9" height="0.9" fill="#3452c2"/>
<rect x="63.56" y="38.51" width="0.9" height="0.9" fill="#3452c2"/>
<rect x="48.5" y="42.46" width="0.9" height="0.9" fill="#3452c2"/>
<rect x="18.07" y="35.74" width="0.9" height="0.9" fill="#3452c2"/>
<rect x="7.72" y="55.7" width="0.9" height="0.9" fill="#3452c2"/>
<rect x="33.51" y="46.8" width="0.9" height="0.9" fill="#3452c2"/>
<rect x="22.53" y="42.6" width="0.9" height="0.9" fill="#3452c2"/>
<rect x="15.8" y="48.36" width="0.9" height="0.9" fill="#3452c2"/>
<rect x="54.3" y="41.73" width="0.9" height="0.9" fill="#3452c2"/>
<rect x="41.4" y="41.17" width="0.9" height="0.9" fill="#3452c2"/>
<rect x="10.5" y="53.88" width="0.9" height="0.9" fill="#3452c2"/>
<rect x="62.59" y="32.26" width="0.9" height="0.9" fill="#3452c2"/>
<rect x="7.81" y="55.84" width="0.9" height="0.9" fill="#3452c2"/>
<rect x="40.57" y="40.8" width="0.9" height="0.9" fill="#3452c2"/>
<rect x="18.86" y="47.13" width="0.9" height="0.9" fill="#3452c2"/>
<rect x="24.48" y="49.54" width="0.9" height="0.9" fill="#3452c2"/>
<rect x="6.33" y="55.11" width="0.9" height="0.9" fill="#3452c2"/>
<rect x="6.68" y="51.98" width="0.9" height="0.9" fill="#3452c2"/>
<rect x="68.67" y="26.65" width="0.9" height="0.9" fill="#3452c2"/>
<rect x="27.81" y="43.57" width="0.9" height="0.9" fill="#3452c2"/>
<rect x="30.11" y="48.18" width="0.9" height="0.9" fill="#3452c2"/>
<rect x="42.33" y="41.72" width="0.9" height="0.9" fill="#3452c2"/>
<rect x="69.34" y="25.22" width="0.9" height="0.9" fill="#3452c2"/>
<rect x="32.15" y="41.95" width="0.9" height="0.9" fill="#3452c2"/>
<rect x="13.59" y="55.01" width="0.9" height="0.9" fill="#3452c2"/>
<rect x="10.49" y="54.5" width="0.9" height="0.9" fill="#3452c2"/>
<rect x="49.22" y="36.51" width="0.9" height="0.9" fill="#3452c2"/>
<rect x="2.58" y="45.78" width="0.9" height="0.9" fill="#3452c2"/>
<rect x="52.87" y="36.26" width="0.9" height="0.9" fill="#3452c2"/>
<rect x="56.27" y="33.24" width="0.9" height="0.9" fill="#3452c2"/>
<rect x="72.06" y="29.47" width="0.9" height="0.9" fill="#3452c2"/>
<rect x="26.35" y="46.49" width="0.9" height="0.9" fill="#3452c2"/>
<rect x="64.91" y="38.1" width="0.9" height="0.9" fill="#3452c2"/>
<rect x="13.04" y="51.01" width="0.9" height="0.9" fill="#3452c2"/>
<rect x="45.13" y="39.95" width="0.9" height="0.9" fill="#3452c2"/>
<rect x="41.32" y="41.7" width="0.9" height="0.9" fill="#3452c2"/>
<rect x="60.14" y="37.06" width="0.9" height="0.9" fill="#3452c2"/>
<rect x="22.35" y="48.23" width="0.9" height="0.9" fill="#3452c2"/>
<rect x="45.51" y="40.5" width="0.9" height="0.9" fill="#3452c2"/>
<rect x="13.2" y="53.65" width="0.9" height="0.9" fill="#3452c2"/>
<rect x="23.13" y="51.35" width="0.9" height="0.9" fill="#3452c2"/>
<rect x="31.54" y="45.5" width="0.9" height="0.9" fill="#3452c2"/>
<rect x="37.97" y="46.39" width="0.9" height="0.9" fill="#3452c2"/>
<rect x="56.9" y="31.5" width="0.9" height="0.9" fill="#3452c2"/>
<rect x="10.44" y="56.62" width="0.9" height="0.9" fill="#3452c2"/>
<rect x="65.16" y="32.44" width="0.9" height="0.9" fill="#3452c2"/>
<rect x="48.41" y="39.76" width="0.9" height="0.9" fill="#3452c2"/>
<rect x="47.93" y="42.79" width="0.9" height="0.9" fill="#3452c2"/>
<rect x="6.66" y="42.42" width="0.9" height="0.9" fill="#3452c2"/>
<rect x="8" y="52.17" width="0.9" height="0.9" fill="#3452c2"/>
<rect x="44.17" y="37.7" width="0.9" height="0.9" fill="#3452c2"/>
<rect x="62.16" y="33.58" width="0.9" height="0.9" fill="#3452c2"/>
<rect x="32.52" y="47.09" width="0.9" height="0.9" fill="#3452c2"/>
<rect x="54.96" y="35.16" width="0.9" height="0.9" fill="#3452c2"/>
<rect x="42.05" y="41.99" width="0.9" height="0.9" fill="#3452c2"/>
<rect x="12.27" y="50.12" width="0.9" height="0.9" fill="#3452c2"/>
<rect x="38.69" y="46.43" width="0.9" height="0.9" fill="#3452c2"/>
<rect x="26.62" y="45.42" width="0.9" height="0.9" fill="#3452c2"/>
<rect x="64.44" y="33.62" width="0.9" height="0.9" fill="#3452c2"/>
<rect x="66.41" y="32.55" width="0.9" height="0.9" fill="#3452c2"/>
<rect x="52.46" y="42.66" width="0.9" height="0.9" fill="#3452c2"/>
<rect x="64.56" y="28.17" width="0.9" height="0.9" fill="#3452c2"/>
<rect x="33.51" y="38.04" width="0.9" height="0.9" fill="#3452c2"/>
<rect x="48.76" y="41.04" width="0.9" height="0.9" fill="#3452c2"/>
<rect x="43.99" y="40.39" width="0.9" height="0.9" fill="#3452c2"/>
<rect x="7.59" y="51.73" width="0.9" height="0.9" fill="#3452c2"/>
<rect x="17.98" y="48.23" width="0.9" height="0.9" fill="#3452c2"/>
<rect x="37.29" y="44.79" width="0.9" height="0.9" fill="#3452c2"/>
<rect x="18.03" y="51.56" width="0.9" height="0.9" fill="#3452c2"/>
<rect x="38.03" y="40.87" width="0.9" height="0.9" fill="#3452c2"/>
<rect x="18.04" y="43.81" width="0.9" height="0.9" fill="#3452c2"/>
<rect x="45.5" y="38.62" width="0.9" height="0.9" fill="#3452c2"/>
<rect x="55.1" y="37.4" width="0.9" height="0.9" fill="#3452c2"/>
<rect x="9.42" y="56.1" width="0.9" height="0.9" fill="#3452c2"/>
<rect x="58.77" y="37.79" width="0.9" height="0.9" fill="#3452c2"/>
<rect x="7.72" y="48.55" width="0.9" height="0.9" fill="#3452c2"/>
<rect x="42.34" y="44.47" width="0.9" height="0.9" fill="#3452c2"/>
<rect x="67.4" y="29.95" width="0.9" height="0.9" fill="#3452c2"/>
<rect x="58.52" y="36.29" width="0.9" height="0.9" fill="#3452c2"/>
<rect x="44.36" y="44.15" width="0.9" height="0.9" fill="#3452c2"/>
<rect x="21.09" y="44.8" width="0.9" height="0.9" fill="#3452c2"/>
<rect x="15" y="48.16" width="0.9" height="0.9" fill="#3452c2"/>
<rect x="15.32" y="49.36" width="0.9" height="0.9" fill="#3452c2"/>
<rect x="32.32" y="47.09" width="0.9" height="0.9" fill="#3452c2"/>
<rect x="60.95" y="35.16" width="0.9" height="0.9" fill="#3452c2"/>
<rect x="17.76" y="54.84" width="0.9" height="0.9" fill="#3452c2"/>
<rect x="47.74" y="39.39" width="0.9" height="0.9" fill="#3452c2"/>
<rect x="29.96" y="44.19" width="0.9" height="0.9" fill="#3452c2"/>
<rect x="29.8" y="44.9" width="0.9" height="0.9" fill="#3452c2"/>
<rect x="23.5" y="48.75" width="0.9" height="0.9" fill="#3452c2"/>
<rect x="22.6" y="47.9" width="0.9" height="0.9" fill="#3452c2"/>
<rect x="37.53" y="35.65" width="0.9" height="0.9" fill="#3452c2"/>
<rect x="21.97" y="46.55" width="0.9" height="0.9" fill="#3452c2"/>
<rect x="33.23" y="47.12" width="0.9" height="0.9" fill="#3452c2"/>
<rect x="47.23" y="39.32" width="0.9" height="0.9" fill="#3452c2"/>
<rect x="2.18" y="55.89" width="0.9" height="0.9" fill="#3452c2"/>
<rect x="31.97" y="48.35" width="0.9" height="0.9" fill="#3452c2"/>
<rect x="45.56" y="40.33" width="0.9" height="0.9" fill="#3452c2"/>
<rect x="31.91" y="41.67" width="0.9" height="0.9" fill="#3452c2"/>
<rect x="14.47" y="51.47" width="0.9" height="0.9" fill="#3452c2"/>
<rect x="57.4" y="35.21" width="0.9" height="0.9" fill="#3452c2"/>
<rect x="41.8" y="40.44" width="0.9" height="0.9" fill="#3452c2"/>
<rect x="4.03" y="53.5" width="0.9" height="0.9" fill="#3452c2"/>
<rect x="47.16" y="38.92" width="0.9" height="0.9" fill="#3452c2"/>
<rect x="60.85" y="39.05" width="0.9" height="0.9" fill="#3452c2"/>
<rect x="39.67" y="44.34" width="0.9" height="0.9" fill="#3452c2"/>
<rect x="29.38" y="41.6" width="0.9" height="0.9" fill="#3452c2"/>
<rect x="48.69" y="43.18" width="0.9" height="0.9" fill="#3452c2"/>
<rect x="62.13" y="30.98" width="0.9" height="0.9" fill="#3452c2"/>
<rect x="40.44" y="26.74" width="0.9" height="0.9" fill="#3452c2"/>
<rect x="1.51" y="56.7" width="0.9" height="0.9" fill="#3452c2"/>
<rect x="45.82" y="28.52" width="0.9" height="0.9" fill="#3452c2"/>
<rect x="12.91" y="52.59" width="0.9" height="0.9" fill="#3452c2"/>
<rect x="26.41" y="48.38" width="0.9" height="0.9" fill="#3452c2"/>
<rect x="8.71" y="49.58" width="0.9" height="0.9" fill="#3452c2"/>
<rect x="49.66" y="32.87" width="0.9" height="0.9" fill="#3452c2"/>
<rect x="49.27" y="40.42" width="0.9" height="0.9" fill="#3452c2"/>
<rect x="37.35" y="47.94" width="0.9" height="0.9" fill="#3452c2"/>
<rect x="63.89" y="37.64" width="0.9" height="0.9" fill="#3452c2"/>
<rect x="19.94" y="50.13" width="0.9" height="0.9" fill="#3452c2"/>
<rect x="8.08" y="52.49" width="0.9" height="0.9" fill="#3452c2"/>
<rect x="36.79" y="43.13" width="0.9" height="0.9" fill="#3452c2"/>
<rect x="11.76" y="53.13" width="0.9" height="0.9" fill="#3452c2"/>
<rect x="20.11" y="48.85" width="0.9" height="0.9" fill="#3452c2"/>
<rect x="29.75" y="48.96" width="0.9" height="0.9" fill="#3452c2"/>
<rect x="27.19" y="47.22" width="0.9" height="0.9" fill="#3452c2"/>
<rect x="61.7" y="33.94" width="0.9" height="0.9" fill="#3452c2"/>
<rect x="13.98" y="54.79" width="0.9" height="0.9" fill="#3452c2"/>
<rect x="22.7" y="43.29" width="0.9" height="0.9" fill="#3452c2"/>
<rect x="64.27" y="37.53" width="0.9" height="0.9" fill="#3452c2"/>
<rect x="12.35" y="47.92" width="0.9" height="0.9" fill="#3452c2"/>
<rect x="49.85" y="37.93" width="0.9" height="0.9" fill="#3452c2"/>
<rect x="3.87" y="55.89" width="0.9" height="0.9" fill="#3452c2"/>
<rect x="61.19" y="29.55" width="0.9" height="0.9" fill="#3452c2"/>
<rect x="2.04" y="57.35" width="0.9" height="0.9" fill="#3452c2"/>
<rect x="22.63" y="45.71" width="0.9" height="0.9" fill="#3452c2"/>
<rect x="17.69" y="51.59" width="0.9" height="0.9" fill="#3452c2"/>
<rect x="63.15" y="37.32" width="0.9" height="0.9" fill="#3452c2"/>
<rect x="36.08" y="45.17" width="0.9" height="0.9" fill="#3452c2"/>
<rect x="19.92" y="48.56" width="0.9" height="0.9" fill="#3452c2"/>
<rect x="21.59" y="48.58" width="0.9" height="0.9" fill="#3452c2"/>
<rect x="21.07" y="48.94" width="0.9" height="0.9" fill="#3452c2"/>
<rect x="3.87" y="56.71" width="0.9" height="0.9" fill="#3452c2"/>
<rect x="32.51" y="46.06" width="0.9" height="0.9" fill="#3452c2"/>
<rect x="17.29" y="51.43" width="0.9" height="0.9" fill="#3452c2"/>
<rect x="18.93" y="52.07" width="0.9" height="0.9" fill="#3452c2"/>
<rect x="49.87" y="42.68" width="0.9" height="0.9" fill="#3452c2"/>
<rect x="27.62" y="50.27" width="0.9" height="0.9" fill="#3452c2"/>
<rect x="42.58" y="44.95" width="0.9" height="0.9" fill="#3452c2"/>
<rect x="38.39" y="42.71" width="0.9" height="0.9" fill="#3452c2"/>
<rect x="38.66" y="43.33" width="0.9" height="0.9" fill="#3452c2"/>
<rect x="28.38" y="47.44" width="0.9" height="0.9" fill="#3452c2"/>
<rect x="5.47" y="56.01" width="0.9" height="0.9" fill="#3452c2"/>
<rect x="19.01" y="47.91" width="0.9" height="0.9" fill="#3452c2"/>
<rect x="55.68" y="37.67" width="0.9" height="0.9" fill="#3452c2"/>
<rect x="53.03" y="36.2" width="0.9" height="0.9" fill="#3452c2"/>
<rect x="54.54" y="36.67" width="0.9" height="0.9" fill="#3452c2"/>
<rect x="55.99" y="33.52" width="0.9" height="0.9" fill="#3452c2"/>
<rect x="3.89" y="56.51" width="0.9" height="0.9" fill="#3452c2"/>
<rect x="35.4" y="41.48" width="0.9" height="0.9" fill="#3452c2"/>
<rect x="49.78" y="43.42" width="0.9" height="0.9" fill="#3452c2"/>
<rect x="50.22" y="42.39" width="0.9" height="0.9" fill="#3452c2"/>
<rect x="45.49" y="38.95" width="0.9" height="0.9" fill="#3452c2"/>
<rect x="67.01" y="36.42" width="0.9" height="0.9" fill="#3452c2"/>
<rect x="47.76" y="38.68" width="0.9" height="0.9" fill="#3452c2"/>
<rect x="22.3" y="49.15" width="0.9" height="0.9" fill="#3452c2"/>
<rect x="5.84" y="48.75" width="0.9" height="0.9" fill="#3452c2"/>
<rect x="9.04" y="50.97" width="0.9" height="0.9" fill="#3452c2"/>
<rect x="43.29" y="43.8" width="0.9" height="0.9" fill="#3452c2"/>
<rect x="5.2" y="44.17" width="0.9" height="0.9" fill="#3452c2"/>
<rect x="39.4" y="45.2" width="0.9" height="0.9" fill="#3452c2"/>
<rect x="22.24" y="47.84" width="0.9" height="0.9" fill="#3452c2"/>
<rect x="10.65" y="52.31" width="0.9" height="0.9" fill="#3452c2"/>
<rect x="48.39" y="41.62" width="0.9" height="0.9" fill="#3452c2"/>
<rect x="42.28" y="37.9" width="0.9" height="0.9" fill="#3452c2"/>
<rect x="6.97" y="53.83" width="0.9" height="0.9" fill="#3452c2"/>
<rect x="40.12" y="41.56" width="0.9" height="0.9" fill="#3452c2"/>
<rect x="8.64" y="49.88" width="0.9" height="0.9" fill="#3452c2"/>
<rect x="31.88" y="43.24" width="0.9" height="0.9" fill="#3452c2"/>
<rect x="54" y="35" width="0.9" height="0.9" fill="#3452c2"/>
<rect x="34.89" y="48.16" width="0.9" height="0.9" fill="#3452c2"/>
<rect x="47.02" y="39.65" width="0.9" height="0.9" fill="#3452c2"/>
<rect x="46.94" y="41.24" width="0.9" height="0.9" fill="#3452c2"/>
<rect x="5.63" y="53.29" width="0.9" height="0.9" fill="#3452c2"/>
<rect x="44.27" y="40.35" width="0.9" height="0.9" fill="#3452c2"/>
<rect x="44.03" y="45.16" width="0.9" height="0.9" fill="#3452c2"/>
<rect x="28.41" y="48.98" width="0.9" height="0.9" fill="#3452c2"/>
<rect x="52.57" y="39.84" width="0.9" height="0.9" fill="#3452c2"/>
<rect x="61.38" y="38.69" width="0.9" height="0.9" fill="#3452c2"/>
<rect x="35.55" y="45.22" width="0.9" height="0.9" fill="#3452c2"/>
<rect x="15.03" y="53.27" width="0.9" height="0.9" fill="#3452c2"/>
<rect x="58.34" y="35.94" width="0.9" height="0.9" fill="#3452c2"/>
<rect x="15.82" y="48.15" width="0.9" height="0.9" fill="#3452c2"/>
<rect x="44.61" y="39.42" width="0.9" height="0.9" fill="#3452c2"/>
<rect x="44.56" y="39.1" width="0.9" height="0.9" fill="#3452c2"/>
<rect x="41.4" y="33.9" width="0.9" height="0.9" fill="#3452c2"/>
<rect x="46.7" y="32.93" width="0.9" height="0.9" fill="#3452c2"/>
<rect x="48.55" y="39.1" width="0.9" height="0.9" fill="#3452c2"/>
<rect x="19.63" y="50.03" width="0.9" height="0.9" fill="#3452c2"/>
<rect x="32.18" y="44.2" width="0.9" height="0.9" fill="#3452c2"/>
<rect x="12.53" y="52.65" width="0.9" height="0.9" fill="#3452c2"/>
<rect x="14.49" y="47.58" width="0.9" height="0.9" fill="#3452c2"/>
<rect x="36.18" y="43.44" width="0.9" height="0.9" fill="#3452c2"/>
<rect x="32.25" y="37.13" width="0.9" height="0.9" fill="#3452c2"/>
<rect x="51.94" y="40.33" width="0.9" height="0.9" fill="#3452c2"/>
<rect x="59.4" y="31.21" width="0.9" height="0.9" fill="#3452c2"/>
<rect x="12.9" y="52.74" width="0.9" height="0.9" fill="#3452c2"/>
<rect x="77.71" y="86.46" width="0.8" height="0.8" fill="#6a80d0"/>
<rect x="69.21" y="69.47" width="0.8" height="0.8" fill="#6a80d0"/>
<rect x="63.25" y="54.45" width="0.8" height="0.8" fill="#6a80d0"/>
<rect x="86.1" y="48.96" width="0.8" height="0.8" fill="#6a80d0"/>
<rect x="85.74" y="73.57" width="0.8" height="0.8" fill="#6a80d0"/>
<rect x="52.73" y="84.58" width="0.8" height="0.8" fill="#6a80d0"/>
<rect x="53.88" y="69.44" width="0.8" height="0.8" fill="#6a80d0"/>
<rect x="54.55" y="88.5" width="0.8" height="0.8" fill="#6a80d0"/>
<rect x="61.75" y="83.25" width="0.8" height="0.8" fill="#6a80d0"/>
<rect x="52.33" y="73.99" width="0.8" height="0.8" fill="#6a80d0"/>
<rect x="52.58" y="45.34" width="0.8" height="0.8" fill="#6a80d0"/>
<rect x="71.7" y="88.23" width="0.8" height="0.8" fill="#6a80d0"/>
<rect x="76.04" y="82.49" width="0.8" height="0.8" fill="#6a80d0"/>
<rect x="79.82" y="67.45" width="0.8" height="0.8" fill="#6a80d0"/>
<rect x="52.93" y="67.71" width="0.8" height="0.8" fill="#6a80d0"/>
<rect x="57.01" y="67.7" width="0.8" height="0.8" fill="#6a80d0"/>
<rect x="63.46" y="66.45" width="0.8" height="0.8" fill="#6a80d0"/>
<rect x="57.51" y="75.73" width="0.8" height="0.8" fill="#6a80d0"/>
<rect x="65.86" y="65.87" width="0.8" height="0.8" fill="#6a80d0"/>
<rect x="52.99" y="65.91" width="0.8" height="0.8" fill="#6a80d0"/>
<rect x="71.19" y="87.76" width="0.8" height="0.8" fill="#6a80d0"/>
<rect x="71.34" y="50.07" width="0.8" height="0.8" fill="#6a80d0"/>
<rect x="61.41" y="59.1" width="0.8" height="0.8" fill="#6a80d0"/>
<rect x="76.68" y="86.25" width="0.8" height="0.8" fill="#6a80d0"/>
<rect x="87.09" y="86.75" width="0.8" height="0.8" fill="#6a80d0"/>
<rect x="85.16" y="82.64" width="0.8" height="0.8" fill="#6a80d0"/>
<rect x="85.53" y="44.91" width="0.8" height="0.8" fill="#6a80d0"/>
<rect x="68.61" y="70.58" width="0.8" height="0.8" fill="#6a80d0"/>
<rect x="76.06" y="71.57" width="0.8" height="0.8" fill="#6a80d0"/>
<rect x="73.3" y="86" width="0.8" height="0.8" fill="#6a80d0"/>
<rect x="53.28" y="67.37" width="0.8" height="0.8" fill="#6a80d0"/>
<rect x="86.46" y="45.43" width="0.8" height="0.8" fill="#6a80d0"/>
<rect x="54.25" y="83.11" width="0.8" height="0.8" fill="#6a80d0"/>
<rect x="86.37" y="45.08" width="0.8" height="0.8" fill="#6a80d0"/>
<rect x="51.21" y="81.34" width="0.8" height="0.8" fill="#6a80d0"/>
<rect x="76.16" y="67.39" width="0.8" height="0.8" fill="#6a80d0"/>
<rect x="72.04" y="78.08" width="0.8" height="0.8" fill="#6a80d0"/>
<rect x="80.7" y="44.03" width="0.8" height="0.8" fill="#6a80d0"/>
<rect x="52.58" y="79.74" width="0.8" height="0.8" fill="#6a80d0"/>
<rect x="87.07" y="81.5" width="0.8" height="0.8" fill="#6a80d0"/>
<rect x="65.49" y="59.1" width="0.8" height="0.8" fill="#6a80d0"/>
<rect x="63.18" y="44.67" width="0.8" height="0.8" fill="#6a80d0"/>
<rect x="79.27" y="55.8" width="0.8" height="0.8" fill="#6a80d0"/>
<rect x="72.25" y="67.68" width="0.8" height="0.8" fill="#6a80d0"/>
<rect x="62.74" y="74.37" width="0.8" height="0.8" fill="#6a80d0"/>
<rect x="67.29" y="54.55" width="0.8" height="0.8" fill="#6a80d0"/>
<rect x="83.51" y="51.91" width="0.8" height="0.8" fill="#6a80d0"/>
<rect x="55.7" y="55.4" width="0.8" height="0.8" fill="#6a80d0"/>
<rect x="68.2" y="79.26" width="0.8" height="0.8" fill="#6a80d0"/>
<rect x="62.65" y="54.72" width="0.8" height="0.8" fill="#6a80d0"/>
<rect x="74.87" y="55.71" width="0.8" height="0.8" fill="#6a80d0"/>
<rect x="69.86" y="55.47" width="0.8" height="0.8" fill="#6a80d0"/>
<rect x="83.33" y="52.3" width="0.8" height="0.8" fill="#6a80d0"/>
<rect x="58.82" y="57.57" width="0.8" height="0.8" fill="#6a80d0"/>
<rect x="62.52" y="76.69" width="0.8" height="0.8" fill="#6a80d0"/>
<rect x="75.62" y="79.56" width="0.8" height="0.8" fill="#6a80d0"/>
<rect x="70.52" y="47.54" width="0.8" height="0.8" fill="#6a80d0"/>
<rect x="79.01" y="55" width="0.8" height="0.8" fill="#6a80d0"/>
<rect x="58.28" y="62.65" width="0.8" height="0.8" fill="#6a80d0"/>
<rect x="87.61" y="60.68" width="0.8" height="0.8" fill="#6a80d0"/>
<rect x="63.55" y="85" width="0.8" height="0.8" fill="#6a80d0"/>
<rect x="87.64" y="61.42" width="0.8" height="0.8" fill="#6a80d0"/>
<rect x="55.15" y="79.53" width="0.8" height="0.8" fill="#6a80d0"/>
<rect x="79.73" y="59.22" width="0.8" height="0.8" fill="#6a80d0"/>
<rect x="80.04" y="61.08" width="0.8" height="0.8" fill="#6a80d0"/>
<rect x="60.91" y="70.7" width="0.8" height="0.8" fill="#6a80d0"/>
<rect x="78.18" y="65.41" width="0.8" height="0.8" fill="#6a80d0"/>
<rect x="81.1" y="44.62" width="0.8" height="0.8" fill="#6a80d0"/>
<rect x="68.96" y="61.12" width="0.8" height="0.8" fill="#6a80d0"/>
<rect x="52.47" y="85.15" width="0.8" height="0.8" fill="#6a80d0"/>
<rect x="57.72" y="38.06" width="0.9" height="0.9" fill="#3a56c4"/>
<rect x="66.54" y="45.6" width="0.9" height="0.9" fill="#3a56c4"/>
<rect x="67.18" y="39.42" width="0.9" height="0.9" fill="#3a56c4"/>
<rect x="67.17" y="37.42" width="0.9" height="0.9" fill="#3a56c4"/>
<rect x="64.57" y="45.46" width="0.9" height="0.9" fill="#3a56c4"/>
<rect x="58.31" y="37.36" width="0.9" height="0.9" fill="#3a56c4"/>
<rect x="64.14" y="44.83" width="0.9" height="0.9" fill="#3a56c4"/>
<rect x="64.72" y="45.49" width="0.9" height="0.9" fill="#3a56c4"/>
<rect x="61.45" y="39.72" width="0.9" height="0.9" fill="#3a56c4"/>
<rect x="57.44" y="38.73" width="0.9" height="0.9" fill="#3a56c4"/>
<rect x="67.27" y="36.72" width="0.9" height="0.9" fill="#3a56c4"/>
<rect x="58.22" y="39.48" width="0.9" height="0.9" fill="#3a56c4"/>
<rect x="56.59" y="39.07" width="0.9" height="0.9" fill="#3a56c4"/>
<rect x="58.19" y="37.23" width="0.9" height="0.9" fill="#3a56c4"/>
<rect x="62.32" y="41.4" width="0.9" height="0.9" fill="#3a56c4"/>
<rect x="62.81" y="43.62" width="0.9" height="0.9" fill="#3a56c4"/>
<rect x="62.32" y="45.47" width="0.9" height="0.9" fill="#3a56c4"/>
<rect x="56.98" y="38.23" width="0.9" height="0.9" fill="#3a56c4"/>
<rect x="56.92" y="39.09" width="0.9" height="0.9" fill="#3a56c4"/>
<rect x="65.13" y="45.24" width="0.9" height="0.9" fill="#3a56c4"/>
<rect x="62.05" y="37.6" width="0.9" height="0.9" fill="#3a56c4"/>
<rect x="59.97" y="41.68" width="0.9" height="0.9" fill="#3a56c4"/>
<rect x="59.53" y="43.93" width="0.9" height="0.9" fill="#3a56c4"/>
<rect x="67.67" y="40.6" width="0.9" height="0.9" fill="#3a56c4"/>
<rect x="63.24" y="44.46" width="0.9" height="0.9" fill="#3a56c4"/>
</g>
<rect x="117.9" y="949.8" width="89.4" height="89.4" fill="none" stroke="#111" stroke-width="1.7"/>
<line x1="116.1" y1="957.2" x2="117.9" y2="957.2" stroke="#222" stroke-width="0.9"/>
<line x1="116.1" y1="963.8" x2="117.9" y2="963.8" stroke="#222" stroke-width="0.9"/>
<line x1="116.1" y1="977.5" x2="117.9" y2="977.5" stroke="#222" stroke-width="0.9"/>
<line x1="116.1" y1="984.1" x2="117.9" y2="984.1" stroke="#222" stroke-width="0.9"/>
<line x1="116.1" y1="998.6" x2="117.9" y2="998.6" stroke="#222" stroke-width="0.9"/>
<line x1="116.1" y1="1005.1" x2="117.9" y2="1005.1" stroke="#222" stroke-width="0.9"/>
<line x1="116.1" y1="1020.5" x2="117.9" y2="1020.5" stroke="#222" stroke-width="0.9"/>
<line x1="116.1" y1="1024.8" x2="117.9" y2="1024.8" stroke="#222" stroke-width="0.9"/>
<line x1="116.1" y1="1029.5" x2="117.9" y2="1029.5" stroke="#222" stroke-width="0.9"/>
<line x1="116.1" y1="1033.4" x2="117.9" y2="1033.4" stroke="#222" stroke-width="0.9"/>
<line x1="119.9" y1="1039.2" x2="119.9" y2="1041" stroke="#222" stroke-width="0.9"/>
<line x1="123.4" y1="1039.2" x2="123.4" y2="1041" stroke="#222" stroke-width="0.9"/>
<line x1="125.9" y1="1039.2" x2="125.9" y2="1041" stroke="#222" stroke-width="0.9"/>
<line x1="131.9" y1="1039.2" x2="131.9" y2="1041" stroke="#222" stroke-width="0.9"/>
<line x1="137.9" y1="1039.2" x2="137.9" y2="1041" stroke="#222" stroke-width="0.9"/>
<line x1="143.9" y1="1039.2" x2="143.9" y2="1041" stroke="#222" stroke-width="0.9"/>
<line x1="150.9" y1="1039.2" x2="150.9" y2="1041" stroke="#222" stroke-width="0.9"/>
<line x1="158.9" y1="1039.2" x2="158.9" y2="1041" stroke="#222" stroke-width="0.9"/>
<line x1="166.9" y1="1039.2" x2="166.9" y2="1041" stroke="#222" stroke-width="0.9"/>
<line x1="173.9" y1="1039.2" x2="173.9" y2="1041" stroke="#222" stroke-width="0.9"/>
<line x1="179.9" y1="1039.2" x2="179.9" y2="1041" stroke="#222" stroke-width="0.9"/>
<line x1="187.9" y1="1039.2" x2="187.9" y2="1041" stroke="#222" stroke-width="0.9"/>
<line x1="194.9" y1="1039.2" x2="194.9" y2="1041" stroke="#222" stroke-width="0.9"/>
<line x1="201.9" y1="1039.2" x2="201.9" y2="1041" stroke="#222" stroke-width="0.9"/>
<ellipse cx="183.5" cy="985.9" rx="11.8" ry="12.3" fill="none" stroke="#111" stroke-width="1.1"/>
<text x="0" y="0" transform="translate(7.8,1031.9) rotate(-90)" text-anchor="start" font-size="8.6">FOXP3</text>
<line x1="4.6" y1="999.5" x2="4.6" y2="984.5" stroke="#111" stroke-width="1.3"/>
<polyline points="2.4,987.5 4.6,983.6 6.8,987.5" fill="none" stroke="#111" stroke-width="1.2"/>
<text x="21.6" y="1055.3" text-anchor="start" font-size="9">CD25</text>
<line x1="48.5" y1="1052.1" x2="64" y2="1052.1" stroke="#111" stroke-width="1.3"/>
<polyline points="61,1049.9 64.9,1052.1 61,1054.3" fill="none" stroke="#111" stroke-width="1.2"/>
</svg></body></html>
